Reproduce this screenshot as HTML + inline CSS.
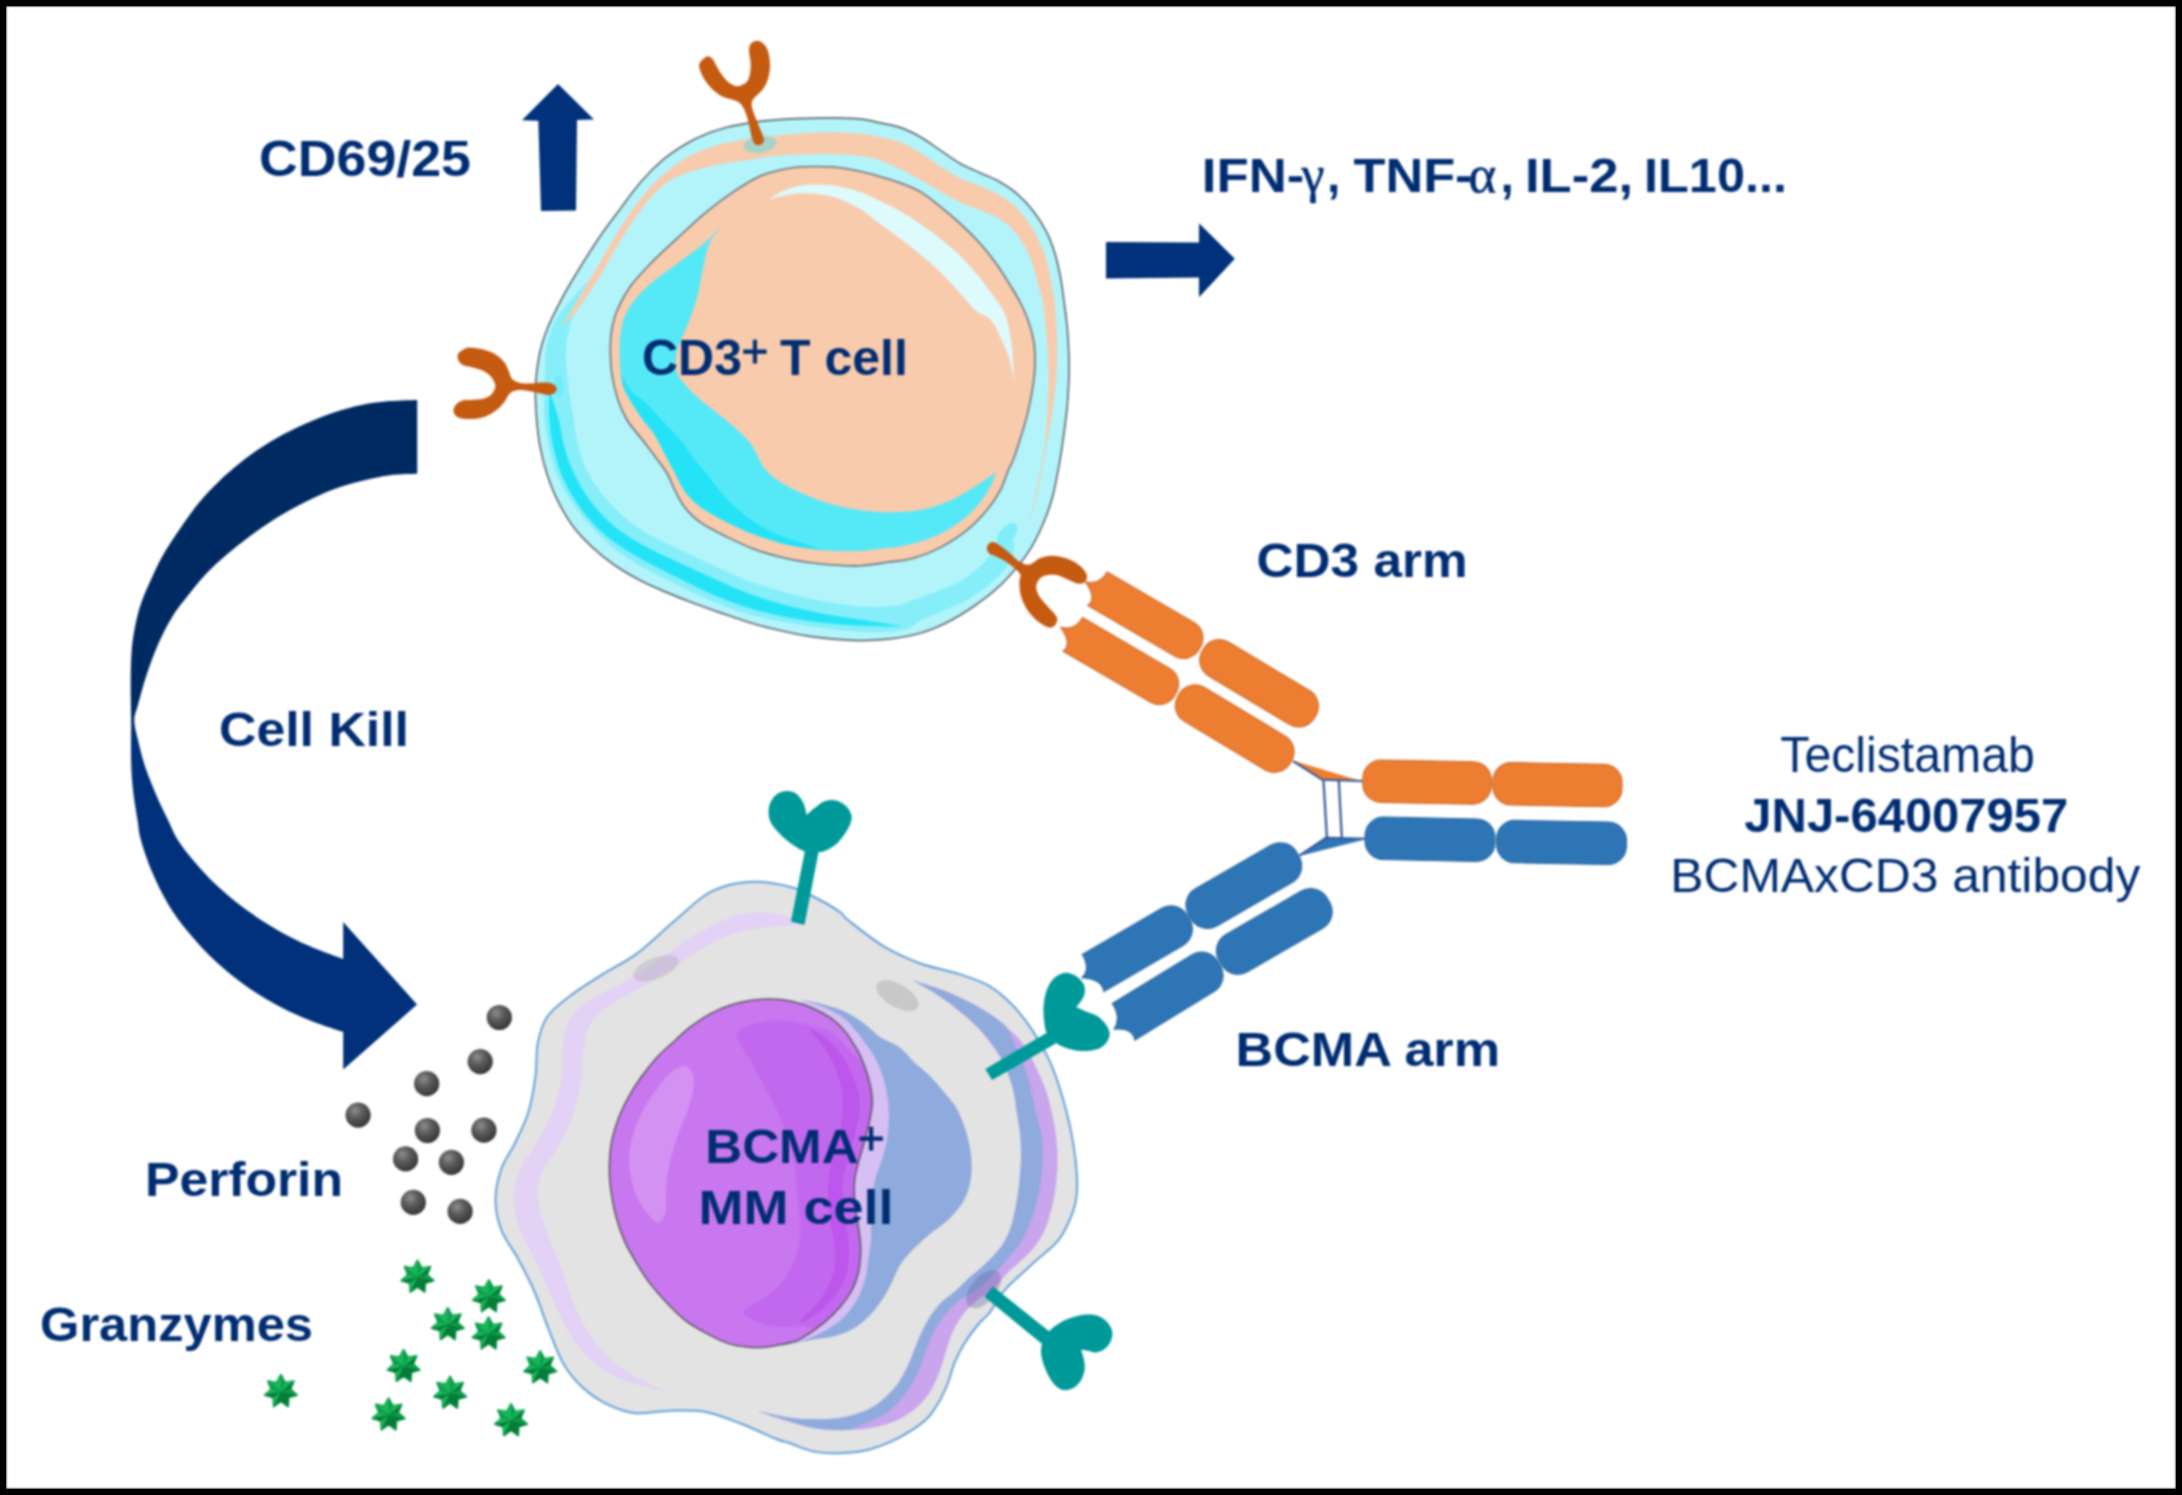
<!DOCTYPE html>
<html><head><meta charset="utf-8"><title>Teclistamab mechanism</title>
<style>
html,body{margin:0;padding:0;background:#fff;}
#frame{position:relative;width:2182px;height:1495px;box-sizing:border-box;border:6.5px solid #000;background:#fff;overflow:hidden;}
#frame svg{position:absolute;left:-6.5px;top:-6.5px;filter:blur(0.9px);}
#frame:after{content:'';position:absolute;left:0;top:0;right:0;bottom:0;box-shadow:inset 0 0 1.6px 0.4px #000;pointer-events:none;}
</style></head><body>
<div id="frame">
<svg width="2182" height="1495" viewBox="0 0 2182 1495">
<defs>
<radialGradient id="sph" cx="0.38" cy="0.32" r="0.7"><stop offset="0" stop-color="#8E8E8E"/><stop offset="0.45" stop-color="#5A5A5A"/><stop offset="1" stop-color="#363636"/></radialGradient>
<linearGradient id="carr" gradientUnits="userSpaceOnUse" x1="0" y1="400" x2="0" y2="1070"><stop offset="0" stop-color="#002A62"/><stop offset="0.455" stop-color="#002A62"/><stop offset="0.505" stop-color="#00317A"/><stop offset="1" stop-color="#00317A"/></linearGradient>
<g id="star"><polygon points="0,-16.6 4.3,-8.8 13,-10.3 9.6,-2.2 16.2,3.7 7.7,6.1 7.2,15 0,9.8 -7.2,15 -7.7,6.1 -16.2,3.7 -9.6,-2.2 -13,-10.3 -4.3,-8.8" fill="#0C9E4A" stroke="#0A9546" stroke-width="1.8" stroke-linejoin="round"/><polygon points="0,0 0,-16.6 4.3,-8.8" fill="#0C9E4A"/><polygon points="0,0 0,-16.6 -4.3,-8.8" fill="#19B85B"/><polygon points="0,0 13,-10.3 9.6,-2.2" fill="#067A38"/><polygon points="0,0 13,-10.3 4.3,-8.8" fill="#19B85B"/><polygon points="0,0 16.2,3.7 7.7,6.1" fill="#067A38"/><polygon points="0,0 16.2,3.7 9.6,-2.2" fill="#0C9E4A"/><polygon points="0,0 7.2,15 0,9.8" fill="#067A38"/><polygon points="0,0 7.2,15 7.7,6.1" fill="#067A38"/><polygon points="0,0 -7.2,15 -7.7,6.1" fill="#19B85B"/><polygon points="0,0 -7.2,15 0,9.8" fill="#067A38"/><polygon points="0,0 -16.2,3.7 -9.6,-2.2" fill="#19B85B"/><polygon points="0,0 -16.2,3.7 -7.7,6.1" fill="#067A38"/><polygon points="0,0 -13,-10.3 -4.3,-8.8" fill="#19B85B"/><polygon points="0,0 -13,-10.3 -9.6,-2.2" fill="#0C9E4A"/></g>
</defs>
<path d="M417.2 399.9C412.6 400.1 399.2 400.3 389.9 401.1C380.6 401.9 371 403 361.5 404.9C352 406.8 342.6 409.5 333.1 412.7C323.6 415.9 314.2 419.8 304.7 424.1C295.2 428.4 285.8 432.9 276.3 438.3C266.8 443.8 257.4 449.7 247.9 456.8C238.4 463.9 227.7 473.1 219.4 480.9C211.1 488.7 204.7 495.6 198.1 503.7C191.5 511.8 185.6 520.5 179.7 529.2C173.8 537.9 167.5 547 162.5 556C157.5 565 153.2 574.8 149.5 583C145.8 591.2 142.9 597.7 140.5 605C138.1 612.3 136.5 619.5 135 627C133.5 634.5 132.4 641.4 131.7 650.3C131 659.2 130.8 668.7 130.7 680.4C130.6 692.1 131 707.1 131.1 720.5C131.2 733.9 130.8 748.9 131.1 760.6C131.4 772.3 132 780.8 133.1 790.7C134.2 800.6 136.2 811.8 137.5 820C138.8 828.2 138.5 831.3 140.9 840C143.3 848.7 147.6 861.4 152.1 872.1C156.6 882.8 162 894 168.2 904.2C174.3 914.4 181 923.5 189 933.1C197 942.7 206.4 952.9 216.3 962C226.2 971.1 237.7 980.2 248.4 987.7C259.1 995.2 269.8 1001.4 280.5 1007C291.2 1012.6 302.2 1017.3 312.6 1021.4C323.1 1025.5 338.1 1030.1 343.2 1031.8L343.2 1069.6L417 1004.6L343.2 921.9L343.2 959.1C337.6 956.9 320.4 950.9 309.4 946C298.4 941.1 288 936.1 277.3 929.9C266.6 923.7 255.4 916.5 245.2 909C235 901.5 224.9 893 216.3 885C207.7 877 200.2 868.4 193.8 860.9C187.4 853.4 182.1 846.8 177.8 840C173.5 833.2 171.6 827.5 168 820C164.4 812.5 159.9 803.6 156.1 794.7C152.3 785.8 148.1 775.6 145.1 766.6C142.1 757.6 139.9 748.2 138.1 740.5C136.3 732.8 134.3 726.5 134.3 720.5C134.3 714.5 136.1 711.8 138.1 704.4C140.1 697 142.8 686.4 146.1 676.4C149.4 666.4 153.8 654.2 158.1 644.3C162.4 634.4 167.5 624.7 172.2 617C176.8 609.3 180.5 605 186 598C191.5 591 198.4 581.9 205.2 574.7C211.9 567.5 219.4 561 226.5 554.8C233.6 548.6 239.6 543.9 247.9 537.7C256.2 531.6 266.8 523.8 276.3 517.9C285.8 512 295.2 506.9 304.7 502.2C314.2 497.4 323.6 492.9 333.1 489.4C342.6 485.8 352 483.3 361.5 480.9C371 478.5 380.6 476.4 389.9 475.2C399.2 474 412.6 474 417.2 473.8Z" fill="url(#carr)"/>
<polygon points="558,84 594,119.5 577,120 576,210.5 541,211 538.3,120.7 522,120.2" fill="#00317A"/>
<polygon points="1106,242 1199,242.6 1199,223.3 1234.8,258.7 1199,297.2 1199,277.6 1106,278.6" fill="#00317A"/>
<clipPath id="tcclip"><path d="M769.8 120.3C777.7 119.6 785.4 119.1 796 118.7C806.6 118.3 822.6 117.7 833.6 117.8C844.6 117.9 853.9 118.3 861.7 119.2C869.5 120.1 874 121.5 880.4 122.9C886.8 124.3 893.4 125.1 900 127.4C906.6 129.7 913.4 133 920.1 136.8C926.8 140.6 933.4 145.7 940.1 150.1C946.8 154.5 953.5 159.7 960.2 163.5C966.9 167.3 973.6 169.8 980.3 172.9C987 176 994.1 178.6 1000.3 182.2C1006.5 185.8 1012.1 189.4 1017.7 194.3C1023.3 199.2 1028.9 205.2 1033.8 211.7C1038.7 218.2 1043.6 226 1047.2 233.1C1050.8 240.2 1053 247.2 1055.2 254.5C1057.4 261.9 1059 269.6 1060.5 277.2C1062 284.8 1062.8 291.7 1063.9 300C1065 308.3 1066.4 317.9 1067.2 326.8C1068 335.7 1068.5 344.6 1068.8 353.5C1069.1 362.4 1069.1 371.4 1068.8 380.3C1068.5 389.2 1068 398.1 1067.2 407C1066.4 415.9 1065.1 424.9 1063.9 433.8C1062.7 442.7 1061.8 450 1059.9 460.5C1058 471 1055.4 486.3 1052.6 496.8C1049.8 507.3 1046.8 515 1043.2 523.5C1039.6 532 1035.7 540.2 1031.2 547.6C1026.8 555 1022.1 561 1016.5 567.7C1010.9 574.4 1004.9 581.2 997.7 587.7C990.6 594.2 982.1 600.7 973.6 606.5C965.1 612.3 955.8 618 946.9 622.5C938 627 930 630.4 920.1 633.2C910.2 636 897.2 638 887.3 639.2C877.4 640.4 869.4 640.6 860.5 640.6C851.6 640.6 842.7 640 833.8 639.2C824.9 638.4 815.9 637.4 807 635.9C798.1 634.4 789.2 632.5 780.3 630.5C771.4 628.5 763.5 626.8 753.5 623.8C743.5 620.8 729.9 616 720 612.6C710.1 609.2 702.7 606.6 693.9 603.3C685.1 600 676.1 596.4 667.2 592.6C658.3 588.8 649.3 585.2 640.4 580.5C631.5 575.8 621.6 570.1 613.6 564.5C605.6 558.9 598.9 553.4 592.2 547.1C585.5 540.9 579.3 534.8 573.5 527C567.7 519.2 562 509.2 557.5 500.3C553 491.4 549.7 482.4 546.8 473.5C543.9 464.6 541.8 455.7 540.1 446.8C538.4 437.9 537.5 430.1 536.7 420C535.9 409.9 535 397 535.5 386C536 375 537.6 363.3 539.5 354C541.4 344.7 543.9 337.7 546.8 330C549.7 322.3 553.1 315.7 557 308C560.9 300.3 563.5 295 570.1 283.8C576.8 272.6 588.6 253.4 596.9 241C605.2 228.6 612.6 219.1 620 209.2C627.4 199.2 634.3 189.5 641.4 181.3C648.5 173.1 655.7 166 662.8 159.9C669.9 153.8 677.1 149.2 684.2 144.9C691.3 140.6 698.5 137.1 705.6 134.2C712.7 131.3 719.9 129.2 727 127.3C734.1 125.4 741.3 124.2 748.4 123C755.5 121.8 761.9 121 769.8 120.3Z"/></clipPath>
<path d="M769.8 120.3C777.7 119.6 785.4 119.1 796 118.7C806.6 118.3 822.6 117.7 833.6 117.8C844.6 117.9 853.9 118.3 861.7 119.2C869.5 120.1 874 121.5 880.4 122.9C886.8 124.3 893.4 125.1 900 127.4C906.6 129.7 913.4 133 920.1 136.8C926.8 140.6 933.4 145.7 940.1 150.1C946.8 154.5 953.5 159.7 960.2 163.5C966.9 167.3 973.6 169.8 980.3 172.9C987 176 994.1 178.6 1000.3 182.2C1006.5 185.8 1012.1 189.4 1017.7 194.3C1023.3 199.2 1028.9 205.2 1033.8 211.7C1038.7 218.2 1043.6 226 1047.2 233.1C1050.8 240.2 1053 247.2 1055.2 254.5C1057.4 261.9 1059 269.6 1060.5 277.2C1062 284.8 1062.8 291.7 1063.9 300C1065 308.3 1066.4 317.9 1067.2 326.8C1068 335.7 1068.5 344.6 1068.8 353.5C1069.1 362.4 1069.1 371.4 1068.8 380.3C1068.5 389.2 1068 398.1 1067.2 407C1066.4 415.9 1065.1 424.9 1063.9 433.8C1062.7 442.7 1061.8 450 1059.9 460.5C1058 471 1055.4 486.3 1052.6 496.8C1049.8 507.3 1046.8 515 1043.2 523.5C1039.6 532 1035.7 540.2 1031.2 547.6C1026.8 555 1022.1 561 1016.5 567.7C1010.9 574.4 1004.9 581.2 997.7 587.7C990.6 594.2 982.1 600.7 973.6 606.5C965.1 612.3 955.8 618 946.9 622.5C938 627 930 630.4 920.1 633.2C910.2 636 897.2 638 887.3 639.2C877.4 640.4 869.4 640.6 860.5 640.6C851.6 640.6 842.7 640 833.8 639.2C824.9 638.4 815.9 637.4 807 635.9C798.1 634.4 789.2 632.5 780.3 630.5C771.4 628.5 763.5 626.8 753.5 623.8C743.5 620.8 729.9 616 720 612.6C710.1 609.2 702.7 606.6 693.9 603.3C685.1 600 676.1 596.4 667.2 592.6C658.3 588.8 649.3 585.2 640.4 580.5C631.5 575.8 621.6 570.1 613.6 564.5C605.6 558.9 598.9 553.4 592.2 547.1C585.5 540.9 579.3 534.8 573.5 527C567.7 519.2 562 509.2 557.5 500.3C553 491.4 549.7 482.4 546.8 473.5C543.9 464.6 541.8 455.7 540.1 446.8C538.4 437.9 537.5 430.1 536.7 420C535.9 409.9 535 397 535.5 386C536 375 537.6 363.3 539.5 354C541.4 344.7 543.9 337.7 546.8 330C549.7 322.3 553.1 315.7 557 308C560.9 300.3 563.5 295 570.1 283.8C576.8 272.6 588.6 253.4 596.9 241C605.2 228.6 612.6 219.1 620 209.2C627.4 199.2 634.3 189.5 641.4 181.3C648.5 173.1 655.7 166 662.8 159.9C669.9 153.8 677.1 149.2 684.2 144.9C691.3 140.6 698.5 137.1 705.6 134.2C712.7 131.3 719.9 129.2 727 127.3C734.1 125.4 741.3 124.2 748.4 123C755.5 121.8 761.9 121 769.8 120.3Z" fill="#B3F4FB"/>
<g clip-path="url(#tcclip)">
<path d="M587.6 281.7C584.8 284.7 576.1 293.2 570.6 299.9C565.1 306.7 558.6 314 554.5 322.2C550.4 330.3 547.7 340 546.1 348.8C544.5 357.6 545.3 366.9 545 375.2C544.7 383.6 544.1 391.1 544 398.9C544 406.7 543.7 413.4 544.6 422C545.6 430.5 547.3 440.7 549.6 450.2C552 459.8 554.7 470.2 558.7 479.4C562.8 488.6 568.4 497.1 574.2 505.4C579.9 513.7 586.3 521.6 593.2 529C600.1 536.4 607.6 543.6 615.7 549.9C623.9 556.2 633.4 561.8 642.2 567C651 572.1 660.3 576.5 668.7 580.8C677.2 585.1 684.3 588.7 693 592.7C701.6 596.7 711.3 600.9 720.6 604.5C730 608.2 735.3 611 749.2 614.6C763.2 618.1 786.1 622.7 804.5 625.6C822.9 628.5 843.4 631.1 859.7 631.9C876 632.7 891.4 632.5 902.1 630.3C912.9 628.2 913.8 623.8 924.3 618.9C934.7 614.1 953.4 607.5 965 601.2C976.5 594.9 985.9 588.1 993.6 581.1C1001.4 574.1 1008.2 565.9 1011.5 559.4C1014.9 552.8 1013.3 544.6 1013.6 541.6L1006.4 538.4C1004.6 540.1 1000.2 544 995.9 548.6C991.5 553.3 987.1 560.3 980.4 566.1C973.7 571.9 966.4 578.1 955.6 583.6C944.9 589.1 925.6 595.5 915.9 599.1C906.3 602.7 907 604 897.9 605.3C888.7 606.5 876 607.6 861.3 606.5C846.6 605.4 826.8 602.3 809.5 598.6C792.3 594.9 770.5 588.3 757.8 584.2C745 580.2 741.4 578.1 733 574.5C724.5 570.8 715.3 566.2 707 562.3C698.7 558.4 691.5 555.1 683.3 551.2C675.1 547.3 666 543.4 657.8 539C649.6 534.7 641.4 530.2 634.3 525.1C627.1 519.9 620.9 514.3 614.8 508.2C608.7 502.1 602.8 495.4 597.8 488.6C592.9 481.8 588.6 475.2 585.3 467.6C581.9 460.1 579.8 451.6 577.8 443.4C575.8 435.1 574.7 425.7 573.4 418C572.1 410.3 571 404.3 570 397.1C568.9 389.9 567.7 382.4 567 374.8C566.3 367.1 565.5 359 565.9 351.2C566.3 343.4 567.6 335.7 569.5 327.8C571.4 320 574.3 311.7 577.4 304.1C580.6 296.5 586.6 285.9 588.4 282.3Z" fill="#86EEF9"/>
<path d="M549 392.1C549.1 396.9 548.6 411.4 549.3 420.8C550.1 430.1 551.4 438.9 553.5 448.1C555.6 457.3 558.2 466.9 562 475.9C565.8 484.9 570.9 494 576.5 502.4C582.1 510.7 588.6 518.9 595.5 526C602.5 533.1 609.9 539.1 618 544.8C626.1 550.6 635.1 555.6 643.9 560.5C652.7 565.4 661.9 569.9 670.7 574.3C679.6 578.7 688 583 696.9 587.2C705.8 591.3 714.9 595.7 724 599.3C733.1 602.9 742.3 606 751.5 608.7C760.6 611.4 769.8 613.7 778.9 615.6C788 617.6 797 619.1 806.1 620.4C815.1 621.8 824.2 622.9 833.3 623.8C842.3 624.7 851.2 625.3 860.2 625.8C869.2 626.2 880.4 626.5 887.2 626.5C894 626.6 898.7 626.3 901 626.2L901 625.8C898.7 625.4 894.1 624.8 887.4 623.9C880.7 622.9 869.6 621.2 860.8 619.8C852 618.5 843.2 617.4 834.3 615.8C825.5 614.3 816.7 612.6 807.9 610.6C799.1 608.6 790.5 606.4 781.7 604C773 601.6 764.2 599.1 755.5 596.1C746.9 593 738.3 589.4 729.6 585.7C720.8 582 711.9 577.8 703.1 573.8C694.3 569.8 685.7 565.8 676.9 561.7C668 557.6 658.7 553.6 650.1 549.1C641.5 544.6 632.8 539.9 625.2 534.6C617.6 529.3 610.9 523.7 604.5 517.2C598 510.7 591.7 503.3 586.5 495.6C581.2 488 576.8 479.5 573 471.1C569.2 462.7 566.3 454.1 563.9 445.5C561.5 436.8 561 428.1 558.7 419.2C556.4 410.3 551.4 396.5 550 391.9Z" fill="#24E3F7"/>
<ellipse cx="1007" cy="534.5" rx="13.5" ry="7.5" fill="#7FEEFA" transform="rotate(-50 1007 534.5)"/>
<ellipse cx="558.5" cy="386.5" rx="4.5" ry="12" fill="#6FEDF9"/>
<path d="M560.8 327.9C563.5 323.4 570.8 311.2 576.8 301.2C582.8 291.2 589.7 279.8 596.9 267.7C604.1 255.6 612.6 240.1 620 228.4C627.4 216.7 634.3 206.3 641.4 197.4C648.5 188.5 655.7 181.3 662.8 174.9C669.9 168.5 677.1 163.2 684.2 158.9C691.3 154.6 698.5 151.9 705.6 149.2C712.7 146.5 719.9 144.5 727 142.8C734.1 141.1 741.3 140.2 748.4 139.1C755.5 138 761.2 137.3 769.8 136.4C778.4 135.5 789.4 134.2 800 133.5C810.6 132.8 823.3 132.2 833.6 132.3C843.9 132.4 854 133 861.7 133.8C869.4 134.6 873.6 135.6 880 137C886.4 138.4 893.3 139.5 900 142.1C906.7 144.7 913.4 148.8 920.1 152.8C926.8 156.8 933.4 162 940.1 166.2C946.8 170.4 953.5 174.8 960.2 178.2C966.9 181.5 973.6 183.4 980.3 186.3C987 189.2 994.1 191.8 1000.3 195.6C1006.5 199.4 1012.6 203.9 1017.7 209C1022.8 214.1 1027.1 220.2 1031.1 226.4C1035.1 232.7 1038.9 239.6 1041.8 246.5C1044.7 253.4 1046.7 260.8 1048.5 267.9C1050.3 275 1051.5 283.9 1052.5 289.3C1053.5 294.7 1053.8 293.8 1054.5 300C1055.2 306.2 1056 317.9 1056.5 326.8C1057 335.7 1057.3 344.6 1057.2 353.5C1057.1 362.4 1056.6 371.4 1055.9 380.3C1055.2 389.2 1054.2 399.2 1053.2 407C1052.2 414.8 1051 420.4 1049.8 427.1C1048.6 433.8 1047.7 439.4 1046.3 447.2C1044.9 455 1043 465.1 1041.2 473.9C1039.4 482.7 1037.8 491.2 1035.5 500C1033.2 508.8 1028.8 522.1 1027.5 526.5L1027.5 526.5C1028.6 522.1 1032.2 508.8 1034.3 500C1036.3 491.2 1038 482.7 1039.8 473.9C1041.5 465.1 1043.7 455 1044.8 447.2C1045.9 439.4 1046 433.8 1046.5 427.1C1047 420.4 1047.5 414.8 1047.8 407C1048.1 399.2 1048.5 389.2 1048.5 380.3C1048.5 371.4 1048.2 362.4 1047.8 353.5C1047.3 344.6 1046.7 335.7 1045.8 326.8C1044.9 317.9 1043.8 307.1 1042.5 300C1041.2 292.9 1039.5 289.9 1037.8 283.9C1036.1 277.9 1034.9 270.5 1032.4 263.8C1030 257.1 1026.7 249.8 1023.1 243.8C1019.5 237.8 1015.5 232.2 1011 227.7C1006.5 223.2 1001.4 219.9 996.3 217C991.2 214.1 986.3 212.8 980.3 210.3C974.3 207.9 966.9 205.4 960.2 202.3C953.5 199.2 946.8 195.4 940.1 191.6C933.4 187.8 926.8 183.4 920.1 179.6C913.4 175.8 908.4 172.6 900 168.9C891.6 165.2 881.1 159.9 870 157.5C858.9 155.1 845.3 154.8 833.6 154.3C821.9 153.8 810.6 154.2 800 154.6C789.4 155 778.4 155.8 769.8 156.7C761.2 157.6 755.5 158.8 748.4 159.9C741.3 161 734.1 161.8 727 163.1C719.9 164.3 712.7 165.6 705.6 167.4C698.5 169.2 691.3 170.8 684.2 173.8C677.1 176.8 669.9 179.7 662.8 185.6C655.7 191.5 648.5 199.9 641.4 209.2C634.3 218.5 627.4 229.3 620 241.3C612.6 253.3 604.1 269.6 596.9 281.1C589.7 292.6 582.8 302.7 576.8 310.5C570.8 318.3 563.5 325 560.8 327.9Z" fill="#F8CBAD"/>
</g>
<path d="M769.8 120.3C777.7 119.6 785.4 119.1 796 118.7C806.6 118.3 822.6 117.7 833.6 117.8C844.6 117.9 853.9 118.3 861.7 119.2C869.5 120.1 874 121.5 880.4 122.9C886.8 124.3 893.4 125.1 900 127.4C906.6 129.7 913.4 133 920.1 136.8C926.8 140.6 933.4 145.7 940.1 150.1C946.8 154.5 953.5 159.7 960.2 163.5C966.9 167.3 973.6 169.8 980.3 172.9C987 176 994.1 178.6 1000.3 182.2C1006.5 185.8 1012.1 189.4 1017.7 194.3C1023.3 199.2 1028.9 205.2 1033.8 211.7C1038.7 218.2 1043.6 226 1047.2 233.1C1050.8 240.2 1053 247.2 1055.2 254.5C1057.4 261.9 1059 269.6 1060.5 277.2C1062 284.8 1062.8 291.7 1063.9 300C1065 308.3 1066.4 317.9 1067.2 326.8C1068 335.7 1068.5 344.6 1068.8 353.5C1069.1 362.4 1069.1 371.4 1068.8 380.3C1068.5 389.2 1068 398.1 1067.2 407C1066.4 415.9 1065.1 424.9 1063.9 433.8C1062.7 442.7 1061.8 450 1059.9 460.5C1058 471 1055.4 486.3 1052.6 496.8C1049.8 507.3 1046.8 515 1043.2 523.5C1039.6 532 1035.7 540.2 1031.2 547.6C1026.8 555 1022.1 561 1016.5 567.7C1010.9 574.4 1004.9 581.2 997.7 587.7C990.6 594.2 982.1 600.7 973.6 606.5C965.1 612.3 955.8 618 946.9 622.5C938 627 930 630.4 920.1 633.2C910.2 636 897.2 638 887.3 639.2C877.4 640.4 869.4 640.6 860.5 640.6C851.6 640.6 842.7 640 833.8 639.2C824.9 638.4 815.9 637.4 807 635.9C798.1 634.4 789.2 632.5 780.3 630.5C771.4 628.5 763.5 626.8 753.5 623.8C743.5 620.8 729.9 616 720 612.6C710.1 609.2 702.7 606.6 693.9 603.3C685.1 600 676.1 596.4 667.2 592.6C658.3 588.8 649.3 585.2 640.4 580.5C631.5 575.8 621.6 570.1 613.6 564.5C605.6 558.9 598.9 553.4 592.2 547.1C585.5 540.9 579.3 534.8 573.5 527C567.7 519.2 562 509.2 557.5 500.3C553 491.4 549.7 482.4 546.8 473.5C543.9 464.6 541.8 455.7 540.1 446.8C538.4 437.9 537.5 430.1 536.7 420C535.9 409.9 535 397 535.5 386C536 375 537.6 363.3 539.5 354C541.4 344.7 543.9 337.7 546.8 330C549.7 322.3 553.1 315.7 557 308C560.9 300.3 563.5 295 570.1 283.8C576.8 272.6 588.6 253.4 596.9 241C605.2 228.6 612.6 219.1 620 209.2C627.4 199.2 634.3 189.5 641.4 181.3C648.5 173.1 655.7 166 662.8 159.9C669.9 153.8 677.1 149.2 684.2 144.9C691.3 140.6 698.5 137.1 705.6 134.2C712.7 131.3 719.9 129.2 727 127.3C734.1 125.4 741.3 124.2 748.4 123C755.5 121.8 761.9 121 769.8 120.3Z" fill="none" stroke="#5F6B70" stroke-width="1.7"/>
<ellipse cx="760" cy="144.5" rx="16.5" ry="8.5" fill="#A8D3C8" transform="rotate(-8 760 144.5)"/>
<path d="M815 166.5C821.3 166.5 827.4 166.4 833.6 167C839.8 167.6 845.8 168.6 852 169.8C858.2 171 864.7 172.4 871 174C877.3 175.6 885 178.1 889.8 179.6C894.6 181.1 895 180.9 900 182.9C905 184.9 913.4 187.7 920.1 191.6C926.8 195.5 933.4 201 940.1 206.3C946.8 211.7 953.5 217.4 960.2 223.7C966.9 229.9 974.3 237.1 980.3 243.8C986.3 250.5 991.2 256.7 996.3 263.8C1001.4 270.9 1007 280.2 1011 286.6C1015 293 1017.2 296.4 1020 302C1022.8 307.6 1025.8 313.7 1028 320C1030.2 326.3 1032.3 333.3 1033.5 340C1034.7 346.7 1035 353.5 1035.1 360.2C1035.1 366.9 1034.6 373.6 1033.8 380.3C1033 387 1031.7 393.6 1030.4 400.3C1029.1 407 1027.6 413.7 1025.8 420.4C1024 427.1 1021.8 433.8 1019.7 440.5C1017.6 447.2 1014.9 455.6 1013 460.5C1011.1 465.4 1010.5 465.1 1008.4 470C1006.3 474.9 1004 483.4 1000.4 490.1C996.8 496.8 992.6 503.4 987 510.1C981.4 516.8 974.8 524 967 530.2C959.2 536.5 949.1 542.9 940.2 547.6C931.3 552.3 922.2 555.8 913.4 558.3C904.6 560.8 896.1 561.1 887.3 562.3C878.5 563.5 869.4 565.2 860.5 565.7C851.6 566.2 842.7 565.6 833.8 565C824.9 564.4 815.9 563.6 807 562.3C798.1 561 789.2 559.2 780.3 557C771.4 554.8 762.4 552.2 753.5 548.9C744.6 545.5 735.7 541.3 726.8 536.9C717.9 532.5 707 527.2 700 522.2C693 517.2 688.6 512.2 684.5 507C680.4 501.8 678.1 496.5 675.2 490.9C672.3 485.3 670.8 479.5 667.2 473.5C663.6 467.5 658.3 460.8 653.8 454.8C649.3 448.8 644.9 443.2 640.4 437.4C635.9 431.6 630.7 426.2 627 420C623.3 413.8 620.5 407.5 618 400C615.5 392.5 613.3 383.3 612 375C610.7 366.7 610.4 357.4 610.3 350C610.2 342.6 610.5 337.2 611.6 330.6C612.7 324 613.9 317.9 617 310.5C620.1 303.1 624.7 294.3 630.3 286.5C635.9 278.7 642.6 271.7 650.4 263.7C658.2 255.7 668.3 246.6 677.2 238.3C686.1 230.1 695.1 221.6 703.9 214.2C712.7 206.8 720.8 200.4 730 194.1C739.2 187.8 750.8 180.5 759.1 176.5C767.4 172.5 773.9 171.7 780 170.1C786.1 168.5 790.2 167.8 796 167.2C801.8 166.6 808.7 166.5 815 166.5Z" fill="#F8CBAD" stroke="#6A7478" stroke-width="1.6"/>
<path d="M722.4 225C719.3 228.1 711.4 237.2 703.9 243.6C696.4 250 686.1 257 677.2 263.7C668.3 270.4 658 277.1 650.4 283.8C642.8 290.5 636.4 297.1 631.7 303.8C627 310.5 624.3 316.2 622.3 323.9C620.3 331.6 619.6 340.5 619.6 350C619.6 359.5 620.3 372.7 622 381C623.7 389.3 626.5 393.5 630 400C633.5 406.5 639.1 414.4 643.1 420C647.1 425.6 650.2 427.8 653.8 433.4C657.4 439 660.9 446.7 664.5 453.4C668.1 460.1 671.9 467.2 675.2 473.5C678.5 479.8 680.9 485.8 684.5 490.9C688.1 496 692.4 500.3 696.6 504C700.9 507.7 705 510 710 513C715 516 719.5 518.7 726.8 522.2C734 525.7 744.6 530.8 753.5 534.2C762.4 537.7 771.4 540.5 780.3 542.9C789.2 545.2 798.1 547 807 548.3C815.9 549.6 824.9 550.5 833.8 550.9C842.7 551.3 851.6 551.4 860.5 550.9C869.4 550.4 880.7 548.7 887.3 548C893.9 547.3 893.5 547.9 900.1 546.5C906.7 545.1 917.9 543 926.8 539.6C935.7 536.2 945.8 531.1 953.6 526.2C961.4 521.3 967.8 516.1 973.6 510.1C979.4 504.1 984.6 496.5 988.4 490.1C992.2 483.8 995.1 475 996.4 472L996.4 472C992.6 474.6 981.9 482.4 973.6 487.4C965.4 492.4 955.8 498.3 946.9 502.1C938 505.9 930 508.4 920.1 510.1C910.2 511.8 897.2 512.3 887.3 512.3C877.4 512.3 869.4 511.4 860.5 510.1C851.6 508.9 842.7 507.2 833.8 504.8C824.9 502.4 815.9 499.2 807 495.4C798.1 491.6 787.4 486.6 780.3 482C773.2 477.4 769.1 474.3 764.2 468C759.3 461.7 756.4 451.3 750.8 444C745.2 436.7 739.1 431.3 730.7 424C722.3 416.7 708.3 406.7 700.6 400C692.9 393.3 688.6 388.8 684.6 384C680.6 379.2 677.7 376.7 676.5 371C675.3 365.3 675.3 357.9 677.2 350C679.1 342.1 684.6 332.7 687.9 323.9C691.2 315.1 694.8 306.1 697.2 297.2C699.7 288.3 700.6 279.3 702.6 270.4C704.6 261.5 706 251.2 709.3 243.6C712.6 236 720.2 228.1 722.4 225Z" fill="#55E9F8"/>
<path d="M621 372C621.3 374.3 621.5 381.3 623 386C624.5 390.7 626.6 394.3 630 400C633.4 405.7 639.1 414.4 643.1 420C647.1 425.6 650.2 427.8 653.8 433.4C657.4 439 660.9 446.7 664.5 453.4C668.1 460.1 671.9 467.2 675.2 473.5C678.5 479.8 680.9 485.8 684.5 490.9C688.1 496 692.4 500.3 696.6 504C700.9 507.7 705 510 710 513C715 516 719.5 518.7 726.8 522.2C734 525.7 744.6 530.8 753.5 534.2C762.4 537.7 771.4 540.5 780.3 542.9C789.2 545.2 799.7 547.1 807 548.3C814.3 549.5 821.2 550 824 550.3L824 550.3C820 548.9 808.7 545.1 800.3 542.2C791.9 539.3 782.5 537.1 773.6 532.9C764.7 528.7 755.1 522.9 746.8 516.8C738.5 510.6 730.1 502.5 724 496C717.9 489.5 714.8 484 710 478C705.2 472 699.9 466.4 695 460.1C690.1 453.8 686 446.8 680.5 440.1C675 433.4 667.7 426.4 661.8 420C655.9 413.6 650.3 407 645 402C639.7 397 634 395 630 390C626 385 622.5 375 621 372Z" fill="#24E3F7"/>
<path d="M769 199.3C771.7 197.8 779 192.4 785 190C791 187.6 796.9 185.8 805 185C813.1 184.2 824.4 184.3 833.6 185.5C842.8 186.7 852.3 189.4 860 192C867.7 194.6 873.3 197.8 880 201C886.7 204.2 893.3 207.2 900 211C906.7 214.8 913.4 219.1 920.1 223.7C926.8 228.3 933.4 233.1 940.1 238.4C946.8 243.8 953.5 249.1 960.2 255.8C966.9 262.5 974.3 271.2 980.3 278.6C986.3 286 992.5 294.8 996.3 300C1000.1 305.2 1001.2 306.6 1003 310C1004.8 313.4 1005.7 315.1 1007 320.1C1008.3 325.1 1010 333.4 1011 340.1C1012 346.8 1012.5 353.4 1013 360.2C1013.5 367 1013.6 377.5 1013.7 381L1013.7 381C1013 377.5 1011.7 367 1009.7 360.2C1007.7 353.4 1004.8 346.8 1001.7 340.1C998.6 333.4 995.5 325.1 991 320.1C986.5 315.1 980 314.5 974.9 310C969.8 305.5 966 299.7 960.2 293.3C954.4 286.9 946.8 278.4 940.1 271.9C933.4 265.4 926.8 260.1 920.1 254.5C913.4 248.9 906.7 243.5 900 238.4C893.3 233.3 886.7 228.9 880 224C873.3 219.1 867.7 213.5 860 209C852.3 204.5 841.9 199.6 833.6 197C825.3 194.4 817.3 193.9 810 193.5C802.7 193.1 796.8 193.5 790 194.5C783.2 195.5 772.5 198.5 769 199.3Z" fill="#DDFBFD"/>
<path d="M706.9 56.5C704.7 57.4 699.9 61.1 699.2 64.5C698.5 67.8 700.8 72.7 702.8 76.6C704.8 80.5 707.7 84.5 710.9 87.8C714.1 91.1 718.1 94.5 722.1 96.6C726.1 98.7 731.8 99.2 735 100.6C738.2 101.9 739.5 102.4 741.4 104.7C743.3 107 744.9 110.7 746.2 114.3C747.5 117.9 748.5 122.4 749.4 126.3C750.3 130.2 751 134.8 751.8 137.6C752.6 140.4 753.1 141.9 754.2 143.2C755.3 144.5 756.8 145.2 758.2 145.2C759.6 145.2 761.7 144.2 762.6 143.2C763.5 142.2 764.2 141.3 763.9 139.2C763.6 137 762 133.8 760.6 130.3C759.2 126.8 757.3 122.3 755.8 118.3C754.3 114.3 752.2 109.5 751.8 106.3C751.4 103.1 751.8 101.5 753.4 99C755 96.5 759.1 93.9 761.4 91C763.7 88.1 765.7 85.2 767.1 81.4C768.5 77.7 769.6 72.8 769.9 68.5C770.2 64.2 769.8 59.4 769.1 55.7C768.4 52 767.3 48.6 765.5 46.1C763.7 43.6 760.6 41.2 758.2 40.8C755.8 40.4 752.5 41.9 751 43.6C749.5 45.3 749.1 47.8 749 50.9C748.9 54 750.4 58.5 750.6 62.1C750.8 65.7 750.7 69.4 750.2 72.5C749.7 75.6 749 78.6 747.8 80.6C746.6 82.6 744.9 83.7 743 84.6C741.1 85.5 739 86.6 736.6 86.2C734.2 85.8 731 84.2 728.5 82.2C726 80.2 723.4 77 721.3 74.1C719.2 71.1 717.2 67 715.7 64.5C714.2 62 714 60.2 712.5 58.9C711 57.6 709.1 55.6 706.9 56.5Z" fill="#C55A11"/>
<path d="M466.5 348.1C463.8 349 459.9 351.4 458.5 353.3C457.1 355.2 457.3 357.7 458.1 359.7C458.9 361.7 460.7 364 463.3 365.3C465.9 366.6 470.1 366.6 473.7 367.7C477.3 368.8 481.9 369.9 485 371.7C488.1 373.4 490.5 375.8 492.2 378.2C493.9 380.6 495.4 383.7 495.4 386.2C495.4 388.7 493.9 391.4 492.2 393.4C490.5 395.4 488.1 397.1 485 398.2C481.9 399.3 477.4 399.4 473.7 399.8C469.9 400.2 465.6 399.7 462.5 400.6C459.4 401.6 456.8 403.6 455.3 405.5C453.8 407.4 453.1 409.9 453.6 411.9C454.1 413.9 455.7 416.3 458.5 417.5C461.3 418.7 466.1 419.2 470.5 419.1C474.9 419 480.7 418.2 485 416.7C489.3 415.2 493 412.7 496.2 410.3C499.4 407.9 501.9 405 504.2 402.2C506.5 399.4 507.6 395.4 509.8 393.4C512 391.4 514 390.6 517.1 390.2C520.2 389.8 524.4 390.5 528.3 391C532.2 391.5 536.7 392.7 540.3 393.4C543.9 394.1 547.5 395.3 550 395C552.5 394.7 554.5 393 555.6 391.8C556.7 390.6 556.9 389.1 556.4 387.8C555.9 386.5 554.4 384.7 552.4 383.8C550.4 382.9 547.8 382.7 544.4 382.6C541 382.5 536.3 383.3 532.3 383.4C528.3 383.5 523.6 383.7 520.3 383C516.9 382.3 514.1 380.9 512.2 379C510.3 377.1 510.3 374.5 509 371.7C507.7 368.9 506.3 364.9 504.2 362.1C502.1 359.3 499.4 356.9 496.2 354.9C493 352.9 488.6 351.2 485 350.1C481.4 349 477.6 348.4 474.5 348.1C471.4 347.8 469.2 347.2 466.5 348.1Z" fill="#C55A11"/>
<path d="M986.8 548.5C986.7 546.8 987.9 544.6 989 543.5C990.1 542.4 991.6 541.8 993.2 542C994.8 542.2 996 542.9 998.5 544.5C1001 546.1 1004.5 548.8 1008.1 551.7C1011.7 554.6 1016.5 560 1020.1 562.1C1023.7 564.2 1026.5 565.2 1029.8 564.5C1033.1 563.8 1036.5 559.6 1040.2 558.1C1043.9 556.6 1047.5 555.6 1052.2 555.7C1056.9 555.8 1063.6 557.2 1068.3 558.9C1073 560.6 1077.2 563.4 1080.3 566.1C1083.4 568.8 1086 572.5 1086.8 575C1087.6 577.5 1086.5 579.9 1085.2 581.4C1083.9 582.9 1081.5 584.1 1078.7 583.8C1075.9 583.5 1072 581.3 1068.3 579.8C1064.6 578.3 1060.3 575.7 1056.3 575C1052.3 574.3 1047.3 574.7 1044.2 575.8C1041.1 576.9 1039.1 579.4 1037.8 581.4C1036.5 583.4 1035.9 585.3 1036.2 587.8C1036.5 590.3 1037.4 593.4 1039.4 596.6C1041.4 599.8 1045.5 604 1048.2 607.1C1050.9 610.2 1054 612.8 1055.5 615.1C1057 617.4 1057.4 618.8 1057.1 620.7C1056.8 622.6 1055.5 625.2 1053.9 626.3C1052.3 627.4 1050.4 628.2 1047.4 627.1C1044.5 626 1039.7 623 1036.2 619.9C1032.7 616.8 1029.1 612.7 1026.6 608.7C1024 604.7 1022.1 600.2 1020.9 595.8C1019.7 591.4 1019.5 585.9 1019.3 582.2C1019.1 578.5 1021.9 576.9 1019.8 573.5C1017.7 570.1 1010.5 564.9 1006.5 562.1C1002.5 559.3 998.9 557.9 996.1 556.5C993.3 555.1 991 555.1 989.5 553.8C988 552.5 986.9 550.2 986.8 548.5Z" fill="#C55A11"/>
<clipPath id="mmclip"><path d="M757 881.7C767.8 882.1 783 884.9 793 887.7C803 890.5 809.2 894.5 817 898.5C824.8 902.5 834.8 908.4 840 912C845.2 915.6 840.6 914.2 848 920C855.4 925.8 872.2 939.5 884.3 946.7C896.4 954 908.4 959.1 920.4 963.5C932.4 967.9 945.3 969.6 956.5 973.2C967.7 976.8 978.6 980 987.8 985.2C997 990.4 1004.7 997.3 1011.9 1004.5C1019.1 1011.7 1025.2 1019.8 1031.2 1028.6C1037.2 1037.4 1043.2 1047.4 1048 1057.4C1052.8 1067.4 1056.4 1077.5 1060 1088.7C1063.6 1100 1067.1 1112.9 1069.7 1124.9C1072.3 1137 1074.5 1150.2 1075.7 1161C1076.9 1171.8 1077.4 1181.6 1077 1190C1076.6 1198.4 1076.1 1202.9 1073.1 1211.2C1070.1 1219.5 1065.5 1231 1058.8 1239.7C1052.1 1248.4 1041.8 1255 1032.7 1263.5C1023.6 1272 1011.4 1282.5 1004.3 1290.6C997.2 1298.7 994.5 1306.3 990 1312.1C985.5 1317.9 981.6 1320.2 977.3 1325.5C972.9 1330.8 967.7 1338 963.9 1344.2C960.1 1350.4 957.2 1356.4 954.5 1362.9C951.8 1369.4 950.4 1376.8 947.9 1383C945.4 1389.2 943.1 1394.6 939.8 1400.4C936.4 1406.2 932.7 1412.7 927.8 1417.8C922.9 1422.9 916.6 1427.2 910.4 1431.2C904.1 1435.2 897 1438.9 890.3 1441.9C883.6 1444.9 877 1447.4 870.3 1449.2C863.6 1451 856.9 1451.9 850.2 1452.6C843.5 1453.3 836.8 1453.5 830.1 1453.2C823.4 1452.9 816.8 1452.3 810.1 1450.6C803.4 1448.9 795.5 1445.1 790 1443.2C784.5 1441.3 784.9 1442.4 776.8 1439.2C768.7 1436 753.1 1428.3 741.2 1423.8C729.3 1419.2 717.5 1414.1 705.6 1411.9C693.7 1409.7 681.9 1410.5 670 1410.7C658.1 1410.9 645.1 1414.3 634.4 1413.1C623.7 1411.9 614.6 1407.9 605.9 1403.6C597.2 1399.2 589.2 1393.7 582.1 1387C575 1380.3 568.6 1372.7 563.1 1363.2C557.6 1353.7 553.6 1341.9 548.9 1330C544.1 1318.1 539.8 1303.9 534.6 1292C529.5 1280.1 523.5 1269 518 1258.7C512.5 1248.4 505.2 1240.1 501.4 1230.2C497.6 1220.3 495.4 1209.7 495.4 1199.4C495.4 1189.1 498.3 1177.6 501.4 1168.5C504.5 1159.4 509.5 1154.3 514 1145C518.5 1135.7 524.6 1124.2 528.2 1112.8C531.8 1101.4 533.8 1088.3 535.4 1076.7C537 1065.1 535.8 1053 537.8 1043C539.8 1033 541.8 1024.5 547.4 1016.5C553 1008.5 562.7 1001.6 571.5 994.8C580.3 988 589.6 982.4 600.4 975.6C611.2 968.8 624.5 962.7 636.5 953.9C648.5 945.1 661.4 932.2 672.6 922.6C683.9 913 694.8 902.2 704 896C713.2 889.8 719.2 887.7 728 885.3C736.8 882.9 746.2 881.3 757 881.7Z"/></clipPath>
<path d="M757 881.7C767.8 882.1 783 884.9 793 887.7C803 890.5 809.2 894.5 817 898.5C824.8 902.5 834.8 908.4 840 912C845.2 915.6 840.6 914.2 848 920C855.4 925.8 872.2 939.5 884.3 946.7C896.4 954 908.4 959.1 920.4 963.5C932.4 967.9 945.3 969.6 956.5 973.2C967.7 976.8 978.6 980 987.8 985.2C997 990.4 1004.7 997.3 1011.9 1004.5C1019.1 1011.7 1025.2 1019.8 1031.2 1028.6C1037.2 1037.4 1043.2 1047.4 1048 1057.4C1052.8 1067.4 1056.4 1077.5 1060 1088.7C1063.6 1100 1067.1 1112.9 1069.7 1124.9C1072.3 1137 1074.5 1150.2 1075.7 1161C1076.9 1171.8 1077.4 1181.6 1077 1190C1076.6 1198.4 1076.1 1202.9 1073.1 1211.2C1070.1 1219.5 1065.5 1231 1058.8 1239.7C1052.1 1248.4 1041.8 1255 1032.7 1263.5C1023.6 1272 1011.4 1282.5 1004.3 1290.6C997.2 1298.7 994.5 1306.3 990 1312.1C985.5 1317.9 981.6 1320.2 977.3 1325.5C972.9 1330.8 967.7 1338 963.9 1344.2C960.1 1350.4 957.2 1356.4 954.5 1362.9C951.8 1369.4 950.4 1376.8 947.9 1383C945.4 1389.2 943.1 1394.6 939.8 1400.4C936.4 1406.2 932.7 1412.7 927.8 1417.8C922.9 1422.9 916.6 1427.2 910.4 1431.2C904.1 1435.2 897 1438.9 890.3 1441.9C883.6 1444.9 877 1447.4 870.3 1449.2C863.6 1451 856.9 1451.9 850.2 1452.6C843.5 1453.3 836.8 1453.5 830.1 1453.2C823.4 1452.9 816.8 1452.3 810.1 1450.6C803.4 1448.9 795.5 1445.1 790 1443.2C784.5 1441.3 784.9 1442.4 776.8 1439.2C768.7 1436 753.1 1428.3 741.2 1423.8C729.3 1419.2 717.5 1414.1 705.6 1411.9C693.7 1409.7 681.9 1410.5 670 1410.7C658.1 1410.9 645.1 1414.3 634.4 1413.1C623.7 1411.9 614.6 1407.9 605.9 1403.6C597.2 1399.2 589.2 1393.7 582.1 1387C575 1380.3 568.6 1372.7 563.1 1363.2C557.6 1353.7 553.6 1341.9 548.9 1330C544.1 1318.1 539.8 1303.9 534.6 1292C529.5 1280.1 523.5 1269 518 1258.7C512.5 1248.4 505.2 1240.1 501.4 1230.2C497.6 1220.3 495.4 1209.7 495.4 1199.4C495.4 1189.1 498.3 1177.6 501.4 1168.5C504.5 1159.4 509.5 1154.3 514 1145C518.5 1135.7 524.6 1124.2 528.2 1112.8C531.8 1101.4 533.8 1088.3 535.4 1076.7C537 1065.1 535.8 1053 537.8 1043C539.8 1033 541.8 1024.5 547.4 1016.5C553 1008.5 562.7 1001.6 571.5 994.8C580.3 988 589.6 982.4 600.4 975.6C611.2 968.8 624.5 962.7 636.5 953.9C648.5 945.1 661.4 932.2 672.6 922.6C683.9 913 694.8 902.2 704 896C713.2 889.8 719.2 887.7 728 885.3C736.8 882.9 746.2 881.3 757 881.7Z" fill="#E3E3E3"/>
<g clip-path="url(#mmclip)">
<path d="M803 924C800.9 922.9 795.8 919.4 790.3 917.5C784.8 915.6 777 913.6 770.3 912.8C763.6 912 756.9 912 750.2 912.8C743.5 913.6 736.8 915.1 730.1 917.5C723.4 919.9 716.8 923.6 710.1 926.9C703.4 930.2 696.6 933.4 690 937.5C683.4 941.6 677.2 946.8 670.6 951.6C664 956.4 657.2 961.8 650.5 966.3C643.8 970.8 637.2 974.6 630.5 978.4C623.8 982.2 617.1 985.5 610.4 989.1C603.7 992.7 596.5 995.6 590.3 999.8C584 1004 577.1 1009.4 572.9 1014.5C568.7 1019.6 566.7 1024.5 564.9 1030.5C563.1 1036.5 562.8 1042.9 562.2 1050.6C561.7 1058.3 563.3 1066.3 561.6 1076.7C559.9 1087.1 557 1100.8 552.2 1112.8C547.4 1124.8 538.3 1139.7 533 1149C527.7 1158.3 523.7 1160.1 520.4 1168.5C517.1 1176.9 513.2 1189.1 513.2 1199.4C513.2 1209.7 516.4 1219.5 520.4 1230.2C524.4 1240.9 531.5 1251.6 537 1263.5C542.5 1275.4 548.1 1289.6 553.6 1301.5C559.1 1313.4 563.9 1324.8 570.2 1334.7C576.5 1344.6 582.9 1353.3 591.6 1360.8C600.3 1368.3 609.4 1374.4 622.5 1379.8C635.6 1385.2 662.1 1390.7 670 1392.9L670 1392.9C666 1391.1 655.3 1387.2 646.2 1382.2C637.1 1377.2 624.5 1370.7 615.4 1363.2C606.3 1355.7 598.3 1346.6 591.6 1337.1C584.9 1327.6 579.8 1316.9 575 1306.2C570.2 1295.5 567.9 1285.7 563.1 1273C558.4 1260.3 550.6 1242.5 546.5 1230.2C542.4 1217.9 539 1209.1 538.2 1199.4C537.4 1189.7 538.9 1179.9 541.7 1172C544.5 1164.1 550 1160.7 555 1152C560 1143.3 567.2 1131.8 571.5 1120C575.8 1108.2 579.2 1091.9 581 1081.5C582.8 1071.1 581.2 1065.9 582.3 1057.4C583.4 1048.9 585.5 1037.2 587.7 1030.5C589.9 1023.8 591.9 1021.4 595.7 1017.2C599.5 1013 604.6 1009.1 610.4 1005.1C616.2 1001.1 623.8 996.9 630.5 993.1C637.2 989.3 643.8 986.4 650.5 982.4C657.2 978.4 664 973.4 670.6 969C677.2 964.6 683.4 960.1 690 956C696.6 951.9 703.4 947.8 710.1 944.3C716.8 940.8 723.4 937.3 730.1 934.9C736.8 932.5 743.5 930.9 750.2 929.6C756.9 928.3 763.6 927.6 770.3 926.9C777 926.2 784.8 926.1 790.3 925.6C795.8 925.1 800.9 924.3 803 924Z" fill="#E3D2F5"/>
<path d="M911.2 979.7C914 980.6 922.2 983.3 928.1 985.3C934 987.3 940.6 989.3 946.8 991.8C953 994.3 959.2 997.2 965.5 1000.3C971.8 1003.4 978.8 1007.3 984.3 1010.6C989.8 1013.9 994.7 1017.2 998.3 1019.9C1001.9 1022.5 1002.7 1023.7 1005.8 1026.5C1008.9 1029.3 1013.6 1033 1017 1036.8C1020.4 1040.5 1023.6 1044.6 1026.4 1049C1029.2 1053.4 1031.6 1058.3 1033.9 1063C1036.2 1067.7 1038.4 1072.3 1040.4 1077C1042.4 1081.7 1044.3 1085.6 1046.1 1091.1C1047.9 1096.6 1049.7 1103.5 1051.2 1110C1052.7 1116.5 1054.2 1123.4 1055.2 1130.1C1056.2 1136.8 1056.9 1143.4 1057.2 1150.1C1057.5 1156.8 1057.5 1163.5 1057.2 1170.2C1056.9 1176.9 1056.2 1183.6 1055.2 1190.3C1054.2 1197 1053 1203.6 1051.2 1210.3C1049.4 1217 1047.4 1224.2 1044.5 1230.4C1041.6 1236.7 1037.8 1242.7 1033.8 1247.8C1029.8 1252.9 1024.9 1257 1020.4 1261.2C1015.9 1265.4 1011.5 1268.5 1007 1273.2C1002.5 1277.9 998.6 1284.8 993.6 1289.3C988.6 1293.8 982.2 1296.1 977.3 1300.1C972.3 1304.1 967.9 1308.3 963.9 1313.4C959.9 1318.5 956.1 1324.8 953.2 1330.8C950.3 1336.8 948.7 1342.9 946.5 1349.6C944.3 1356.3 942.5 1364.1 939.8 1371C937.1 1377.9 934.3 1385 930.5 1391C926.7 1397 922.2 1402.4 917.1 1407.1C912 1411.8 905.7 1416 899.7 1419.1C893.7 1422.2 887.2 1424.1 881 1425.8C874.8 1427.5 867.6 1428.5 862.2 1429.2C856.9 1429.9 854.2 1429.7 848.9 1429.8C843.5 1429.9 836.6 1430.2 830.1 1429.8C823.6 1429.4 816.8 1428.5 810.1 1427.2C803.4 1425.9 798.7 1424.5 790 1421.8C781.3 1419.1 763.2 1413 757.9 1411.3L757.9 1411.3C763.2 1412.4 781.8 1416.5 790 1417.8C798.2 1419.1 801.1 1418.9 807.4 1419.1C813.6 1419.3 820.8 1419.5 827.5 1419.1C834.2 1418.6 840.8 1418 847.5 1416.4C854.2 1414.9 861.6 1412.7 867.6 1409.8C873.6 1406.9 878.5 1403.6 883.6 1399.1C888.7 1394.6 894.1 1389 898.4 1383C902.6 1377 906 1369.6 909.1 1362.9C912.2 1356.2 914.2 1349.6 917.1 1342.9C920 1336.2 922.7 1329.3 926.5 1322.8C930.3 1316.3 934.7 1309.7 939.8 1304.1C944.9 1298.5 952.7 1293.4 957.2 1289.4C961.7 1285.4 962.2 1284.2 966.9 1279.9C971.6 1275.6 980 1269.2 985.6 1263.8C991.2 1258.4 996.3 1253.4 1000.3 1247.8C1004.3 1242.2 1007.2 1236.7 1009.7 1230.4C1012.2 1224.2 1013.7 1217 1015.1 1210.3C1016.5 1203.6 1017.5 1197 1018.4 1190.3C1019.3 1183.6 1019.9 1176.9 1020.4 1170.2C1020.9 1163.5 1021.2 1156.8 1021.1 1150.1C1021 1143.4 1020.5 1136.8 1019.7 1130.1C1018.9 1123.4 1017.1 1115 1016.4 1110C1015.6 1105 1015.9 1103.9 1015.2 1100C1014.5 1096.1 1013.6 1091 1012.4 1086.4C1011.1 1081.8 1009.6 1077.1 1007.7 1072.4C1005.8 1067.7 1003.8 1063 1001.1 1058.3C998.5 1053.6 995.4 1049.1 991.8 1044.3C988.2 1039.5 984 1034 979.6 1029.3C975.2 1024.6 971 1020.9 965.5 1016.2C960 1011.5 953 1005.7 946.8 1001.2C940.6 996.7 934 992.6 928.1 989C922.2 985.4 914 981.2 911.2 979.7Z" fill="#C8A5EC"/>
<path d="M911.2 979.7C914 980.6 922.2 983.3 928.1 985.3C934 987.3 940.6 989.3 946.8 991.8C953 994.3 959.2 997.2 965.5 1000.3C971.8 1003.4 978.8 1007.3 984.3 1010.6C989.8 1013.9 994.7 1017.2 998.3 1019.9C1001.9 1022.5 1003.4 1023.2 1005.8 1026.5C1008.1 1029.8 1010.2 1035.1 1012.4 1039.6C1014.6 1044.1 1016.9 1048.9 1018.9 1053.6C1020.9 1058.3 1022.8 1063 1024.5 1067.7C1026.2 1072.4 1027.8 1076.3 1029.2 1081.7C1030.6 1087.1 1032 1095.3 1033 1100C1034 1104.7 1033.8 1105 1035.1 1110C1036.3 1115 1039.3 1123.4 1040.5 1130.1C1041.7 1136.8 1042.3 1143.4 1042.5 1150.1C1042.7 1156.8 1042.4 1163.5 1041.8 1170.2C1041.2 1176.9 1040.3 1183.6 1039.1 1190.3C1037.9 1197 1036.4 1203.6 1034.4 1210.3C1032.4 1217 1029.9 1224.4 1027.1 1230.4C1024.3 1236.4 1021.3 1241.4 1017.7 1246.5C1014.1 1251.6 1010.2 1256.1 1005.7 1261.2C1001.2 1266.3 995.7 1272.5 991 1277.2C986.3 1281.9 982.5 1285.6 977.3 1289.4C972.1 1293.2 965.5 1295.6 959.9 1300.1C954.3 1304.5 948.3 1310.5 943.8 1316.1C939.3 1321.7 936.2 1327.2 933.1 1333.5C930 1339.8 927.8 1346.9 925.1 1353.6C922.4 1360.3 920.2 1367.1 917.1 1373.6C914 1380.1 910.6 1386.6 906.4 1392.4C902.2 1398.2 896.8 1404 891.7 1408.4C886.6 1412.9 881 1416.2 875.6 1419.1C870.2 1422 864.1 1424 859.6 1425.8C855.1 1427.6 853.8 1429.1 848.9 1429.8C844 1430.5 836.6 1430.2 830.1 1429.8C823.6 1429.4 816.8 1428.5 810.1 1427.2C803.4 1425.9 798.7 1424.5 790 1421.8C781.3 1419.1 763.2 1413 757.9 1411.3L757.9 1411.3C763.2 1412.4 781.8 1416.5 790 1417.8C798.2 1419.1 801.1 1418.9 807.4 1419.1C813.6 1419.3 820.8 1419.5 827.5 1419.1C834.2 1418.6 840.8 1418 847.5 1416.4C854.2 1414.9 861.6 1412.7 867.6 1409.8C873.6 1406.9 878.5 1403.6 883.6 1399.1C888.7 1394.6 894.1 1389 898.4 1383C902.6 1377 906 1369.6 909.1 1362.9C912.2 1356.2 914.2 1349.6 917.1 1342.9C920 1336.2 922.7 1329.3 926.5 1322.8C930.3 1316.3 934.7 1309.7 939.8 1304.1C944.9 1298.5 952.7 1293.4 957.2 1289.4C961.7 1285.4 962.2 1284.2 966.9 1279.9C971.6 1275.6 980 1269.2 985.6 1263.8C991.2 1258.4 996.3 1253.4 1000.3 1247.8C1004.3 1242.2 1007.2 1236.7 1009.7 1230.4C1012.2 1224.2 1013.7 1217 1015.1 1210.3C1016.5 1203.6 1017.5 1197 1018.4 1190.3C1019.3 1183.6 1019.9 1176.9 1020.4 1170.2C1020.9 1163.5 1021.2 1156.8 1021.1 1150.1C1021 1143.4 1020.5 1136.8 1019.7 1130.1C1018.9 1123.4 1017.1 1115 1016.4 1110C1015.6 1105 1015.9 1103.9 1015.2 1100C1014.5 1096.1 1013.6 1091 1012.4 1086.4C1011.1 1081.8 1009.6 1077.1 1007.7 1072.4C1005.8 1067.7 1003.8 1063 1001.1 1058.3C998.5 1053.6 995.4 1049.1 991.8 1044.3C988.2 1039.5 984 1034 979.6 1029.3C975.2 1024.6 971 1020.9 965.5 1016.2C960 1011.5 953 1005.7 946.8 1001.2C940.6 996.7 934 992.6 928.1 989C922.2 985.4 914 981.2 911.2 979.7Z" fill="#8FAADC"/>
<path d="M803 1000C806.5 1000.8 817 1002.6 823.8 1004.5C830.6 1006.4 837.1 1008.1 843.8 1011.2C850.5 1014.3 857.9 1018.9 863.9 1023.2C869.9 1027.5 874 1032.9 880 1037C886 1041.1 894.4 1043.5 900.1 1047.7C905.8 1051.9 909.3 1057.7 914 1062.1C918.7 1066.5 923.9 1070.2 928.1 1074.2C932.3 1078.2 935.5 1082.1 939.3 1086.4C943 1090.7 947.6 1096.1 950.6 1100C953.6 1103.9 955 1105 957.5 1110C960 1115 963.5 1123.4 965.6 1130.1C967.7 1136.8 969.2 1143.4 970.2 1150.1C971.2 1156.8 971.9 1163.5 971.6 1170.2C971.3 1176.9 970.1 1184.3 968.2 1190.3C966.3 1196.3 963.8 1201.2 960.2 1206.3C956.6 1211.4 951.9 1216.3 946.8 1221C941.7 1225.7 935 1229.7 929.4 1234.4C923.8 1239.1 918.3 1244 913.4 1249.1C908.5 1254.2 903.4 1260 900 1265.2C896.6 1270.4 895.7 1274.6 893 1280C890.3 1285.4 887.4 1291.6 883.6 1297.4C879.8 1303.2 875.2 1309.7 870.3 1314.8C865.4 1319.9 860.2 1324.6 854.2 1328.2C848.2 1331.8 840.3 1334.4 834.1 1336.2C827.9 1338 822.5 1337.9 816.8 1338.9C811.1 1339.9 805.8 1340.8 800 1342C794.2 1343.2 785 1345.3 782 1346L790 1300L800 1180L800 1030Z" fill="#8FAADC"/>
<path d="M803 1000.5C806.5 1001.6 817 1004.3 823.8 1007.2C830.6 1010.1 838.2 1013.7 843.8 1017.9C849.4 1022.1 854 1028.9 857.2 1032.6C860.4 1036.3 859.7 1035.4 862.9 1040C866.1 1044.6 872.5 1052.3 876.3 1060.1C880.1 1067.9 883.6 1077.9 885.7 1086.8C887.8 1095.7 888.8 1104.7 889 1113.6C889.2 1122.5 888.2 1132.5 887 1140.3C885.8 1148.1 883.7 1153.7 881.7 1160.4C879.7 1167.1 876.8 1172.7 875 1180.5C873.2 1188.3 871.7 1197.3 871 1207.2C870.3 1217.1 871.5 1230.9 871 1240C870.5 1249.1 869 1255.3 868 1262C867 1268.7 866.8 1273.7 864.9 1280C863 1286.3 860.5 1293.8 856.9 1300.1C853.3 1306.3 848.4 1312.6 843.5 1317.5C838.6 1322.4 833.5 1325.9 827.5 1329.5C821.5 1333.1 815 1336.3 807.4 1338.9C799.8 1341.5 786.2 1344 782 1345L790 1300L800 1180L800 1030Z" fill="#D6BFF3"/>
<ellipse cx="656" cy="968.3" rx="24" ry="10.5" fill="#B4ACBC" fill-opacity="0.45" transform="rotate(-21 656 968.3)"/>
<ellipse cx="897.4" cy="995.6" rx="23.5" ry="11.5" fill="#C8C8C8" transform="rotate(30 897.4 995.6)"/>
<ellipse cx="983.6" cy="1289.3" rx="22.5" ry="12.5" fill="#5F5F9E" fill-opacity="0.33" transform="rotate(-50 983.6 1289.3)"/>
</g>
<path d="M757 881.7C767.8 882.1 783 884.9 793 887.7C803 890.5 809.2 894.5 817 898.5C824.8 902.5 834.8 908.4 840 912C845.2 915.6 840.6 914.2 848 920C855.4 925.8 872.2 939.5 884.3 946.7C896.4 954 908.4 959.1 920.4 963.5C932.4 967.9 945.3 969.6 956.5 973.2C967.7 976.8 978.6 980 987.8 985.2C997 990.4 1004.7 997.3 1011.9 1004.5C1019.1 1011.7 1025.2 1019.8 1031.2 1028.6C1037.2 1037.4 1043.2 1047.4 1048 1057.4C1052.8 1067.4 1056.4 1077.5 1060 1088.7C1063.6 1100 1067.1 1112.9 1069.7 1124.9C1072.3 1137 1074.5 1150.2 1075.7 1161C1076.9 1171.8 1077.4 1181.6 1077 1190C1076.6 1198.4 1076.1 1202.9 1073.1 1211.2C1070.1 1219.5 1065.5 1231 1058.8 1239.7C1052.1 1248.4 1041.8 1255 1032.7 1263.5C1023.6 1272 1011.4 1282.5 1004.3 1290.6C997.2 1298.7 994.5 1306.3 990 1312.1C985.5 1317.9 981.6 1320.2 977.3 1325.5C972.9 1330.8 967.7 1338 963.9 1344.2C960.1 1350.4 957.2 1356.4 954.5 1362.9C951.8 1369.4 950.4 1376.8 947.9 1383C945.4 1389.2 943.1 1394.6 939.8 1400.4C936.4 1406.2 932.7 1412.7 927.8 1417.8C922.9 1422.9 916.6 1427.2 910.4 1431.2C904.1 1435.2 897 1438.9 890.3 1441.9C883.6 1444.9 877 1447.4 870.3 1449.2C863.6 1451 856.9 1451.9 850.2 1452.6C843.5 1453.3 836.8 1453.5 830.1 1453.2C823.4 1452.9 816.8 1452.3 810.1 1450.6C803.4 1448.9 795.5 1445.1 790 1443.2C784.5 1441.3 784.9 1442.4 776.8 1439.2C768.7 1436 753.1 1428.3 741.2 1423.8C729.3 1419.2 717.5 1414.1 705.6 1411.9C693.7 1409.7 681.9 1410.5 670 1410.7C658.1 1410.9 645.1 1414.3 634.4 1413.1C623.7 1411.9 614.6 1407.9 605.9 1403.6C597.2 1399.2 589.2 1393.7 582.1 1387C575 1380.3 568.6 1372.7 563.1 1363.2C557.6 1353.7 553.6 1341.9 548.9 1330C544.1 1318.1 539.8 1303.9 534.6 1292C529.5 1280.1 523.5 1269 518 1258.7C512.5 1248.4 505.2 1240.1 501.4 1230.2C497.6 1220.3 495.4 1209.7 495.4 1199.4C495.4 1189.1 498.3 1177.6 501.4 1168.5C504.5 1159.4 509.5 1154.3 514 1145C518.5 1135.7 524.6 1124.2 528.2 1112.8C531.8 1101.4 533.8 1088.3 535.4 1076.7C537 1065.1 535.8 1053 537.8 1043C539.8 1033 541.8 1024.5 547.4 1016.5C553 1008.5 562.7 1001.6 571.5 994.8C580.3 988 589.6 982.4 600.4 975.6C611.2 968.8 624.5 962.7 636.5 953.9C648.5 945.1 661.4 932.2 672.6 922.6C683.9 913 694.8 902.2 704 896C713.2 889.8 719.2 887.7 728 885.3C736.8 882.9 746.2 881.3 757 881.7Z" fill="none" stroke="#62A0DA" stroke-width="2"/>
<clipPath id="nucclip"><path d="M770.3 999.1C777 999.2 783.6 999.8 790.3 1001.1C797 1002.5 803.7 1004.4 810.4 1007.2C817.1 1010 824.9 1014.1 830.5 1017.9C836.1 1021.7 840.2 1026 843.8 1029.9C847.4 1033.8 849.2 1037.1 852 1041.5C854.8 1045.9 857.6 1050.1 860.3 1056.1C863 1062.1 866.3 1070.2 868.3 1077.5C870.3 1084.8 872.1 1093.1 872.3 1100.2C872.5 1107.3 870.9 1113.4 869.6 1120.3C868.3 1127.2 866.1 1135 864.3 1141.7C862.5 1148.4 860.5 1154.4 858.9 1160.4C857.3 1166.4 855.7 1172.2 854.9 1177.8C854.1 1183.4 854 1187.8 854.2 1193.8C854.4 1199.8 855.3 1206.5 856.3 1213.9C857.3 1221.3 859.3 1231.2 860 1238C860.7 1244.8 860.8 1249.3 860.5 1255C860.2 1260.7 859.9 1266.2 858.5 1272C857.1 1277.8 855.1 1284.2 852 1290C848.9 1295.8 844.7 1301.5 840 1307C835.3 1312.5 830.4 1317.6 823.7 1322.9C817 1328.2 806.1 1335.7 800 1339.1C793.9 1342.5 792.8 1341.8 787.3 1343.1C781.8 1344.4 773.9 1346.4 767.2 1347.1C760.5 1347.8 753.9 1347.8 747.2 1347.1C740.5 1346.4 733.8 1345.3 727.1 1343.1C720.4 1340.9 713.7 1337.3 707 1333.7C700.3 1330.1 693.7 1326.8 687 1321.7C680.3 1316.6 673.1 1309.4 666.9 1302.9C660.6 1296.4 654.9 1290 649.5 1282.9C644.1 1275.8 639 1267.2 634.8 1260.1C630.6 1253 627.2 1247.3 624.1 1240.1C621 1232.9 618.2 1224.7 616.1 1217C614 1209.3 612.5 1201 611.4 1193.8C610.3 1186.6 609.5 1181.6 609.4 1173.8C609.3 1166 609.5 1155.5 610.7 1147C611.9 1138.5 614 1130.9 616.8 1122.9C619.6 1114.9 623.5 1106.5 627.5 1098.9C631.5 1091.3 635.9 1084.4 640.8 1077.5C645.7 1070.6 651.1 1063.7 656.9 1057.4C662.7 1051.2 670.1 1045 675.6 1040C681.1 1035 684.2 1031.6 690 1027.2C695.8 1022.8 703.4 1017.5 710.1 1013.8C716.8 1010.1 723.4 1007.4 730.1 1005.2C736.8 1003 743.5 1001.5 750.2 1000.5C756.9 999.5 763.6 999 770.3 999.1Z"/></clipPath>
<path d="M770.3 999.1C777 999.2 783.6 999.8 790.3 1001.1C797 1002.5 803.7 1004.4 810.4 1007.2C817.1 1010 824.9 1014.1 830.5 1017.9C836.1 1021.7 840.2 1026 843.8 1029.9C847.4 1033.8 849.2 1037.1 852 1041.5C854.8 1045.9 857.6 1050.1 860.3 1056.1C863 1062.1 866.3 1070.2 868.3 1077.5C870.3 1084.8 872.1 1093.1 872.3 1100.2C872.5 1107.3 870.9 1113.4 869.6 1120.3C868.3 1127.2 866.1 1135 864.3 1141.7C862.5 1148.4 860.5 1154.4 858.9 1160.4C857.3 1166.4 855.7 1172.2 854.9 1177.8C854.1 1183.4 854 1187.8 854.2 1193.8C854.4 1199.8 855.3 1206.5 856.3 1213.9C857.3 1221.3 859.3 1231.2 860 1238C860.7 1244.8 860.8 1249.3 860.5 1255C860.2 1260.7 859.9 1266.2 858.5 1272C857.1 1277.8 855.1 1284.2 852 1290C848.9 1295.8 844.7 1301.5 840 1307C835.3 1312.5 830.4 1317.6 823.7 1322.9C817 1328.2 806.1 1335.7 800 1339.1C793.9 1342.5 792.8 1341.8 787.3 1343.1C781.8 1344.4 773.9 1346.4 767.2 1347.1C760.5 1347.8 753.9 1347.8 747.2 1347.1C740.5 1346.4 733.8 1345.3 727.1 1343.1C720.4 1340.9 713.7 1337.3 707 1333.7C700.3 1330.1 693.7 1326.8 687 1321.7C680.3 1316.6 673.1 1309.4 666.9 1302.9C660.6 1296.4 654.9 1290 649.5 1282.9C644.1 1275.8 639 1267.2 634.8 1260.1C630.6 1253 627.2 1247.3 624.1 1240.1C621 1232.9 618.2 1224.7 616.1 1217C614 1209.3 612.5 1201 611.4 1193.8C610.3 1186.6 609.5 1181.6 609.4 1173.8C609.3 1166 609.5 1155.5 610.7 1147C611.9 1138.5 614 1130.9 616.8 1122.9C619.6 1114.9 623.5 1106.5 627.5 1098.9C631.5 1091.3 635.9 1084.4 640.8 1077.5C645.7 1070.6 651.1 1063.7 656.9 1057.4C662.7 1051.2 670.1 1045 675.6 1040C681.1 1035 684.2 1031.6 690 1027.2C695.8 1022.8 703.4 1017.5 710.1 1013.8C716.8 1010.1 723.4 1007.4 730.1 1005.2C736.8 1003 743.5 1001.5 750.2 1000.5C756.9 999.5 763.6 999 770.3 999.1Z" fill="#C877EF"/>
<g clip-path="url(#nucclip)">
<path d="M736.8 1033.9C737.6 1027.3 749.1 1025.4 756.9 1023.2C764.7 1021 774.7 1020 783.6 1020.5C792.5 1021 801 1022.7 810.4 1025.9C819.8 1029.2 828.4 1027.7 840 1040C851.6 1052.3 875 1073.3 880 1100C885 1126.7 871.7 1170 870 1200C868.3 1230 876.7 1259.2 870 1280C863.3 1300.8 841.7 1317.4 830 1325C818.3 1332.6 808.2 1325.4 800 1325.7C791.8 1326 787.2 1327.5 780.6 1327C774 1326.5 766.8 1325.5 760.5 1323C754.2 1320.5 743.1 1316.1 743.1 1312.3C743.1 1308.5 754.2 1305 760.5 1300.3C766.8 1295.6 775 1290.9 780.6 1284.2C786.2 1277.5 790.8 1268.6 794 1260.1C797.2 1251.6 799.3 1243.4 800 1233.4C800.7 1223.4 799.2 1212.2 798 1200C796.8 1187.8 795.5 1172.5 793 1160C790.5 1147.5 787 1135.8 783 1125C779 1114.2 774.2 1105.3 769 1095C763.8 1084.7 757.4 1073.2 752 1063C746.6 1052.8 736 1040.5 736.8 1033.9Z" fill="#C268EE"/>
<path d="M810.4 1030C811.1 1028.7 824.1 1036.7 830 1042C835.9 1047.3 841.7 1054.8 846 1062C850.3 1069.2 853.7 1077.8 856 1085C858.3 1092.2 860 1097.5 860 1105C860 1112.5 857.8 1121.7 856 1130C854.2 1138.3 851.2 1146.7 849 1155C846.8 1163.3 844 1172.5 843 1180C842 1187.5 842.5 1192.5 843 1200C843.5 1207.5 845 1216.7 846 1225C847 1233.3 849 1241.7 849 1250C849 1258.3 848.5 1267.2 846 1275C843.5 1282.8 839.2 1290.3 834 1297C828.8 1303.7 820.7 1310.8 815 1315C809.3 1319.2 799.2 1324.5 800 1322C800.8 1319.5 814.5 1307.8 820 1300C825.5 1292.2 830.5 1283.3 833 1275C835.5 1266.7 835.3 1258.3 835 1250C834.7 1241.7 832.2 1233.3 831 1225C829.8 1216.7 828.3 1208.3 828 1200C827.7 1191.7 827.8 1183.3 829 1175C830.2 1166.7 833 1158.3 835 1150C837 1141.7 839.7 1133.3 841 1125C842.3 1116.7 843.5 1108.3 843 1100C842.5 1091.7 840.8 1083.3 838 1075C835.2 1066.7 830.6 1057.5 826 1050C821.4 1042.5 809.7 1031.3 810.4 1030Z" fill="#BC56EC"/>
<path d="M686 1066C684.3 1066.5 679.7 1066.7 676 1069C672.3 1071.3 669 1073.3 663.6 1080.1C658.2 1086.9 648.9 1099.6 643.5 1109.6C638.1 1119.6 633.8 1130.7 631.5 1140.3C629.2 1149.9 628.8 1158.2 629.5 1167.1C630.2 1176 632.5 1186 635.5 1193.8C638.5 1201.6 643.9 1209.1 647.5 1213.9C651.1 1218.7 655.4 1221.3 657 1222.8L657 1222.8C657.8 1222.4 660.5 1222.6 662 1220.5C663.5 1218.4 665.1 1215.5 665.8 1210C666.5 1204.5 665.5 1195.5 666.3 1187.2C667 1178.9 668.1 1169.8 670.3 1160.4C672.5 1151 676.5 1139.9 679.6 1131C682.7 1122.1 686.6 1114.3 689 1106.9C691.4 1099.5 693.1 1092.4 693.7 1086.8C694.3 1081.2 693.8 1076.9 692.5 1073.4C691.2 1069.9 687.1 1067.2 686 1066Z" fill="#D392F2"/>
</g>
<path d="M770.3 999.1C777 999.2 783.6 999.8 790.3 1001.1C797 1002.5 803.7 1004.4 810.4 1007.2C817.1 1010 824.9 1014.1 830.5 1017.9C836.1 1021.7 840.2 1026 843.8 1029.9C847.4 1033.8 849.2 1037.1 852 1041.5C854.8 1045.9 857.6 1050.1 860.3 1056.1C863 1062.1 866.3 1070.2 868.3 1077.5C870.3 1084.8 872.1 1093.1 872.3 1100.2C872.5 1107.3 870.9 1113.4 869.6 1120.3C868.3 1127.2 866.1 1135 864.3 1141.7C862.5 1148.4 860.5 1154.4 858.9 1160.4C857.3 1166.4 855.7 1172.2 854.9 1177.8C854.1 1183.4 854 1187.8 854.2 1193.8C854.4 1199.8 855.3 1206.5 856.3 1213.9C857.3 1221.3 859.3 1231.2 860 1238C860.7 1244.8 860.8 1249.3 860.5 1255C860.2 1260.7 859.9 1266.2 858.5 1272C857.1 1277.8 855.1 1284.2 852 1290C848.9 1295.8 844.7 1301.5 840 1307C835.3 1312.5 830.4 1317.6 823.7 1322.9C817 1328.2 806.1 1335.7 800 1339.1C793.9 1342.5 792.8 1341.8 787.3 1343.1C781.8 1344.4 773.9 1346.4 767.2 1347.1C760.5 1347.8 753.9 1347.8 747.2 1347.1C740.5 1346.4 733.8 1345.3 727.1 1343.1C720.4 1340.9 713.7 1337.3 707 1333.7C700.3 1330.1 693.7 1326.8 687 1321.7C680.3 1316.6 673.1 1309.4 666.9 1302.9C660.6 1296.4 654.9 1290 649.5 1282.9C644.1 1275.8 639 1267.2 634.8 1260.1C630.6 1253 627.2 1247.3 624.1 1240.1C621 1232.9 618.2 1224.7 616.1 1217C614 1209.3 612.5 1201 611.4 1193.8C610.3 1186.6 609.5 1181.6 609.4 1173.8C609.3 1166 609.5 1155.5 610.7 1147C611.9 1138.5 614 1130.9 616.8 1122.9C619.6 1114.9 623.5 1106.5 627.5 1098.9C631.5 1091.3 635.9 1084.4 640.8 1077.5C645.7 1070.6 651.1 1063.7 656.9 1057.4C662.7 1051.2 670.1 1045 675.6 1040C681.1 1035 684.2 1031.6 690 1027.2C695.8 1022.8 703.4 1017.5 710.1 1013.8C716.8 1010.1 723.4 1007.4 730.1 1005.2C736.8 1003 743.5 1001.5 750.2 1000.5C756.9 999.5 763.6 999 770.3 999.1Z" fill="none" stroke="#5A5560" stroke-width="1.5"/>
<path d="M804.8 851.5L818.6 852.1L804.4 924.9L791 921.5Z" fill="#009999"/>
<path d="M806.6 814.8C806.1 812.9 805.3 806.9 803.6 803.4C801.9 799.9 799.1 795.8 796.3 793.7C793.5 791.7 790.1 790.9 786.7 791.1C783.3 791.3 778.8 792.5 775.9 794.9C773 797.3 770.2 801.6 769.2 805.8C768.2 810 768.3 815.8 769.8 820.2C771.3 824.6 774.9 828.5 778.3 832.3C781.7 836.1 785.9 839.9 790.3 843.1C794.7 846.3 800.1 850 804.8 851.5C809.5 853 814.8 852.4 818.6 852.1C822.4 851.8 824.3 851.4 827.6 849.7C830.9 848 835.1 845.4 838.5 841.9C841.9 838.4 845.9 832.8 848.1 828.6C850.3 824.4 852.1 820.4 851.7 816.6C851.3 812.8 848.5 808.5 845.7 805.8C842.9 803.1 838.5 801 834.9 800.3C831.3 799.6 827.4 800.2 824 801.5C820.6 802.8 817.3 806 814.4 808.2C811.5 810.4 807.9 813.7 806.6 814.8Z" fill="#009999"/>
<path d="M1056.6 1043L992 1080.1L985.4 1068.9L1047.2 1032.5Z" fill="#009999"/>
<path d="M1076.3 1007.1C1077.8 1007.8 1081.8 1009.9 1085.2 1011.3C1088.6 1012.7 1093.1 1013.5 1096.4 1015.5C1099.7 1017.5 1102.6 1020.2 1104.8 1023C1107 1025.8 1109 1029.4 1109.5 1032.4C1110 1035.4 1109 1038.3 1107.6 1040.8C1106.2 1043.3 1104 1045.8 1101.1 1047.4C1098.1 1049.1 1093.8 1050.2 1089.9 1050.7C1086 1051.2 1081.8 1051.2 1077.7 1050.7C1073.6 1050.2 1069.1 1049.1 1065.5 1047.8C1061.9 1046.5 1059.2 1045.2 1056.1 1042.7C1053 1040.2 1048.8 1036.2 1046.8 1032.9C1044.8 1029.6 1045 1027.1 1044.4 1023C1043.9 1018.9 1043.3 1013.1 1043.5 1008.1C1043.7 1003.1 1044.5 997.6 1045.8 993.1C1047.1 988.6 1049.2 984 1051.5 980.9C1053.8 977.8 1057.1 975.6 1059.9 974.3C1062.7 973 1065.3 972.4 1068.3 972.9C1071.3 973.4 1075.1 975.2 1077.7 977.2C1080.3 979.2 1082.6 982 1083.8 984.6C1085 987.2 1085.1 990.4 1084.7 993.1C1084.3 995.8 1082.8 998.3 1081.4 1000.6C1080 1002.9 1077.2 1006 1076.3 1007.1Z" fill="#009999"/>
<path d="M992.9 1286.4L1050 1332L1043 1344.8L984.5 1296.7Z" fill="#009999"/>
<path d="M1081 1350.1C1081.5 1351.6 1083.2 1355.8 1083.8 1359C1084.4 1362.2 1085.1 1365.9 1084.7 1369.3C1084.3 1372.7 1083 1376.6 1081.4 1379.6C1079.8 1382.5 1077.6 1385.2 1074.9 1387C1072.2 1388.8 1068.5 1390.3 1065.5 1390.3C1062.5 1390.3 1059.8 1389.1 1057.1 1387C1054.4 1384.9 1051.8 1381.3 1049.6 1377.7C1047.4 1374.1 1045.4 1369.4 1044 1365.5C1042.6 1361.6 1041.5 1357.9 1041.2 1354.3C1040.9 1350.7 1040.8 1347.8 1042.1 1344C1043.4 1340.2 1046.3 1334.7 1049.1 1331.3C1051.9 1327.9 1055.3 1325.7 1059 1323.4C1062.7 1321.2 1066.7 1319.3 1071.1 1317.8C1075.5 1316.3 1080.7 1314.8 1085.2 1314.5C1089.7 1314.2 1094.6 1314.6 1098.3 1315.9C1102 1317.2 1105.3 1319.8 1107.6 1322.4C1109.9 1325.1 1111.8 1328.5 1112.3 1331.8C1112.8 1335.1 1111.8 1339.1 1110.4 1342.1C1109 1345.1 1106.4 1347.9 1103.9 1349.6C1101.4 1351.3 1098.3 1352.2 1095.5 1352.4C1092.7 1352.6 1089.4 1350.9 1087 1350.5C1084.6 1350.1 1082 1350.2 1081 1350.1Z" fill="#009999"/>
<path d="M1293 760.5L1322.3 779.6L1362.5 781.5Z" fill="#ED7D31"/>
<path d="M1293 761.2L1322.3 779.8L1363 781" fill="none" stroke="#2F5597" stroke-width="2.1"/>
<path d="M1299.4 856L1326 838.2L1365 839.5Z" fill="#2E75B6"/>
<path d="M1299.4 855.7L1326 837.8L1365 838.8" fill="none" stroke="#2F5597" stroke-width="2.1"/>
<path d="M1323.5 780.5L1326.9 837.5M1338.8 780.8L1341.8 838" fill="none" stroke="#2F5597" stroke-width="2.2"/>
<path d="M0 -19.5Q0.5 -4.3 -14 0Q5 8.8 0 19.5L100.5 19.5A18 18 0 0 0 118.5 1.5L118.5 -1.5A18 18 0 0 0 100.5 -19.5Z" fill="#ED7D31" stroke="#C9692B" stroke-width="1" transform="translate(1097.4 588.7) rotate(30.2)"/>
<path d="M0 -19.5Q0.5 -4.3 -14 0Q5 8.8 0 19.5L101 19.5A18 18 0 0 0 119 1.5L119 -1.5A18 18 0 0 0 101 -19.5Z" fill="#ED7D31" stroke="#C9692B" stroke-width="1" transform="translate(1072.7 634.3) rotate(30.3)"/>
<rect x="1193.6" y="663.5" width="131" height="39.5" rx="18.5" ry="18.5" fill="#ED7D31" stroke="#C9692B" stroke-width="1" transform="rotate(31 1259.1 683.2)"/>
<rect x="1169.2" y="708.9" width="131" height="39.5" rx="18.5" ry="18.5" fill="#ED7D31" stroke="#C9692B" stroke-width="1" transform="rotate(31 1234.7 728.6)"/>
<path d="M0 -21.5Q0.5 -4.7 -12 -1.5Q5 9.7 0 21.5L91.6 21.5A19 19 0 0 0 110.6 2.5L110.6 -2.5A19 19 0 0 0 91.6 -21.5Z" fill="#2E75B6" stroke="#2A679F" stroke-width="1" transform="translate(1093 973) rotate(-30.2)"/>
<path d="M0 -21.5Q0.5 -4.7 -12 1.5Q5 9.7 0 21.5L93 21.5A19 19 0 0 0 112 2.5L112 -2.5A19 19 0 0 0 93 -21.5Z" fill="#2E75B6" stroke="#2A679F" stroke-width="1" transform="translate(1123.5 1021.8) rotate(-31.5)"/>
<rect x="1181.3" y="864.1" width="125" height="43" rx="19" ry="19" fill="#2E75B6" stroke="#2A679F" stroke-width="1" transform="rotate(-30 1243.8 885.6)"/>
<rect x="1211.8" y="909.9" width="125" height="43" rx="19" ry="19" fill="#2E75B6" stroke="#2A679F" stroke-width="1" transform="rotate(-30 1274.3 931.4)"/>
<rect x="1362.7" y="760.8" width="128.7" height="42.5" rx="18.5" ry="18.5" fill="#ED7D31" stroke="#C9692B" stroke-width="1" transform="rotate(1.1 1427 782)"/>
<rect x="1492.8" y="763.4" width="129.3" height="42.5" rx="18.5" ry="18.5" fill="#ED7D31" stroke="#C9692B" stroke-width="1" transform="rotate(1.1 1557.5 784.6)"/>
<rect x="1365" y="818" width="130" height="42.5" rx="18.5" ry="18.5" fill="#2E75B6" stroke="#2A679F" stroke-width="1" transform="rotate(1.1 1430 839.2)"/>
<rect x="1496.5" y="821.2" width="130" height="42.5" rx="18.5" ry="18.5" fill="#2E75B6" stroke="#2A679F" stroke-width="1" transform="rotate(1.1 1561.5 842.5)"/>
<circle cx="499.3" cy="1017.5" r="12.6" fill="url(#sph)"/>
<circle cx="480.2" cy="1061.6" r="12.6" fill="url(#sph)"/>
<circle cx="426.7" cy="1083.7" r="12.6" fill="url(#sph)"/>
<circle cx="358.1" cy="1115.1" r="12.6" fill="url(#sph)"/>
<circle cx="427.4" cy="1130.5" r="12.6" fill="url(#sph)"/>
<circle cx="483.9" cy="1130.2" r="12.6" fill="url(#sph)"/>
<circle cx="405.6" cy="1158.9" r="12.6" fill="url(#sph)"/>
<circle cx="451.4" cy="1162.3" r="12.6" fill="url(#sph)"/>
<circle cx="413.3" cy="1202.4" r="12.6" fill="url(#sph)"/>
<circle cx="460.1" cy="1211.4" r="12.6" fill="url(#sph)"/>
<use href="#star" x="417.5" y="1277"/>
<use href="#star" x="488.9" y="1296.5"/>
<use href="#star" x="447.8" y="1324.5"/>
<use href="#star" x="488.6" y="1333.8"/>
<use href="#star" x="403.6" y="1366.3"/>
<use href="#star" x="540.2" y="1367.6"/>
<use href="#star" x="280.9" y="1391.4"/>
<use href="#star" x="450.1" y="1393"/>
<use href="#star" x="388.6" y="1414.8"/>
<use href="#star" x="511" y="1420.5"/>
<text x="259" y="175.7" font-family="'Liberation Sans', sans-serif" font-size="50" font-weight="bold" fill="#002D72" textLength="212" lengthAdjust="spacingAndGlyphs">CD69/25</text>
<text x="642" y="375.3" font-family="'Liberation Sans', sans-serif" font-size="50" font-weight="bold" fill="#002D72">CD3</text>
<text x="741.5" y="366.8" font-family="'Liberation Sans', sans-serif" font-size="46" font-weight="normal" fill="#002D72" stroke="#002D72" stroke-width="0.9">+</text>
<text x="780" y="375.3" font-family="'Liberation Sans', sans-serif" font-size="50" font-weight="bold" fill="#002D72">T cell</text>
<text x="219" y="746" font-family="'Liberation Sans', sans-serif" font-size="48.5" font-weight="bold" fill="#002D72" textLength="190" lengthAdjust="spacingAndGlyphs">Cell Kill</text>
<text x="145" y="1195.7" font-family="'Liberation Sans', sans-serif" font-size="48" font-weight="bold" fill="#002D72" textLength="198" lengthAdjust="spacingAndGlyphs">Perforin</text>
<text x="40" y="1341.2" font-family="'Liberation Sans', sans-serif" font-size="48" font-weight="bold" fill="#002D72" textLength="273" lengthAdjust="spacingAndGlyphs">Granzymes</text>
<text x="705.2" y="1162.9" font-family="'Liberation Sans', sans-serif" font-size="48.6" font-weight="bold" fill="#002D72" textLength="153.5" lengthAdjust="spacingAndGlyphs">BCMA</text>
<text x="857.8" y="1154.3" font-family="'Liberation Sans', sans-serif" font-size="46" font-weight="normal" fill="#002D72" stroke="#002D72" stroke-width="0.9">+</text>
<text x="698.5" y="1223.9" font-family="'Liberation Sans', sans-serif" font-size="48.6" font-weight="bold" fill="#002D72" textLength="195" lengthAdjust="spacingAndGlyphs">MM cell</text>
<text x="1256.5" y="577" font-family="'Liberation Sans', sans-serif" font-size="48" font-weight="bold" fill="#002D72" textLength="211" lengthAdjust="spacingAndGlyphs">CD3 arm</text>
<text x="1235.5" y="1065.8" font-family="'Liberation Sans', sans-serif" font-size="48" font-weight="bold" fill="#002D72" textLength="264.5" lengthAdjust="spacingAndGlyphs">BCMA arm</text>
<text x="1201.8" y="192.2" font-family="'Liberation Sans', sans-serif" font-size="48" font-weight="bold" fill="#002D72" textLength="102.5" lengthAdjust="spacingAndGlyphs">IFN-</text>
<text x="1301.5" y="192.2" font-family="'Liberation Serif', sans-serif" font-size="52" font-weight="normal" fill="#002D72" stroke="#002D72" stroke-width="0.6">γ</text>
<text x="1327" y="192.2" font-family="'Liberation Sans', sans-serif" font-size="48" font-weight="bold" fill="#002D72">,</text>
<text x="1353.5" y="192.2" font-family="'Liberation Sans', sans-serif" font-size="48" font-weight="bold" fill="#002D72" textLength="119" lengthAdjust="spacingAndGlyphs">TNF-</text>
<text x="1468.5" y="192.2" font-family="'Liberation Serif', sans-serif" font-size="53" font-weight="normal" fill="#002D72" stroke="#002D72" stroke-width="0.6">α</text>
<text x="1500.5" y="192.2" font-family="'Liberation Sans', sans-serif" font-size="48" font-weight="bold" fill="#002D72">,</text>
<text x="1525" y="192.2" font-family="'Liberation Sans', sans-serif" font-size="48" font-weight="bold" fill="#002D72" textLength="108" lengthAdjust="spacingAndGlyphs">IL-2,</text>
<text x="1644" y="192.2" font-family="'Liberation Sans', sans-serif" font-size="48" font-weight="bold" fill="#002D72" textLength="143" lengthAdjust="spacingAndGlyphs">IL10...</text>
<text x="1780.3" y="771.5" font-family="'Liberation Sans', sans-serif" font-size="49.5" font-weight="normal" fill="#002D72" textLength="254.5" lengthAdjust="spacingAndGlyphs">Teclistamab</text>
<text x="1744.3" y="832" font-family="'Liberation Sans', sans-serif" font-size="48.5" font-weight="bold" fill="#002D72" textLength="324" lengthAdjust="spacingAndGlyphs">JNJ-64007957</text>
<text x="1670.3" y="892" font-family="'Liberation Sans', sans-serif" font-size="49" font-weight="normal" fill="#002D72" textLength="470" lengthAdjust="spacingAndGlyphs">BCMAxCD3 antibody</text>
</svg>
</div>
</body></html>
